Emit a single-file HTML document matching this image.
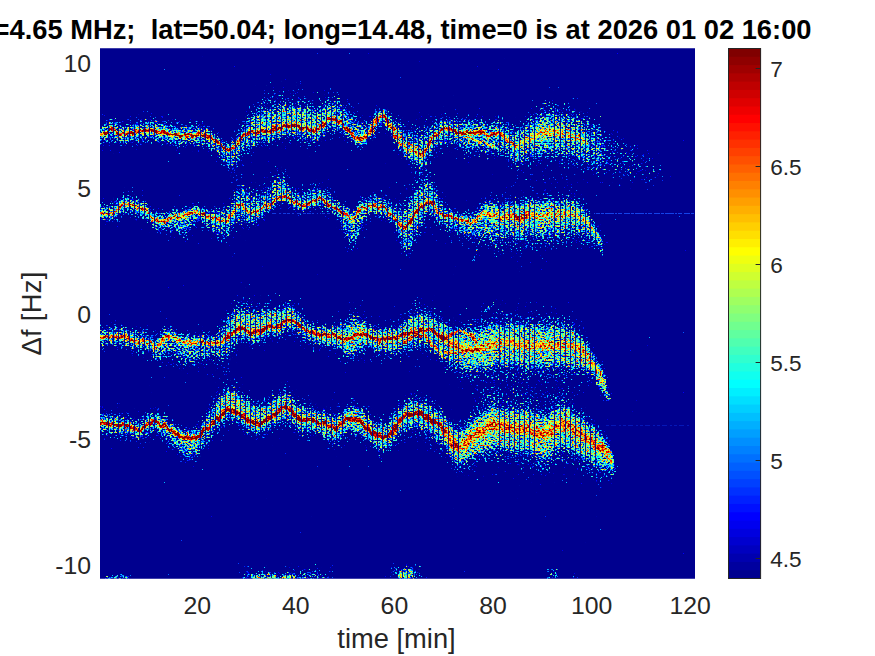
<!DOCTYPE html>
<html><head><meta charset="utf-8"><title>spectrogram</title>
<style>
html,body{margin:0;padding:0;background:#fff;}
body{width:875px;height:656px;overflow:hidden;font-family:"Liberation Sans",sans-serif;}
svg{display:block;position:absolute;left:0;top:0;}
text{font-family:"Liberation Sans",sans-serif;fill:#262626;}
.tk{font-size:24.8px;}
.lb{font-size:27.3px;}
.yl{letter-spacing:.3px;}
.ti{font-size:27.3px;font-weight:bold;fill:#000;}
.h0{fill:#fff;fill-opacity:.22;}
.h1{fill:#fff;}
polygon.h1{fill-opacity:.28;}
.h2{fill:#fff;}
polygon.h2{fill-opacity:.214;}
.h3{fill:#fff;}
polygon.h3{fill-opacity:.27;}
.cl{fill:#fff;}
.l{fill:none;stroke:#fff;stroke-width:1;}
.c{fill:none;stroke:#fff;stroke-linecap:round;stroke-linejoin:round;}
</style></head><body>
<svg width="875" height="656" viewBox="0 0 875 656">
<defs>
<filter id="b6" filterUnits="userSpaceOnUse" x="60" y="10" width="680" height="610"><feGaussianBlur stdDeviation="6"/></filter>
<filter id="b4" filterUnits="userSpaceOnUse" x="60" y="10" width="680" height="610"><feGaussianBlur stdDeviation="3.4"/></filter>
<filter id="b2" filterUnits="userSpaceOnUse" x="60" y="10" width="680" height="610"><feGaussianBlur stdDeviation="1.8"/></filter>
<filter id="b1" filterUnits="userSpaceOnUse" x="60" y="10" width="680" height="610"><feGaussianBlur stdDeviation="1.1"/></filter>
<filter id="b0" filterUnits="userSpaceOnUse" x="60" y="10" width="680" height="610"><feGaussianBlur stdDeviation="0.55"/></filter>
<filter id="spec" filterUnits="userSpaceOnUse" x="100.0" y="48.5" width="595.0" height="530.0" color-interpolation-filters="sRGB">
<feTurbulence type="fractalNoise" baseFrequency="0.47 0.62" numOctaves="1" seed="7" result="n"/>
<feColorMatrix in="n" type="matrix" values="1 0 0 0 0 1 0 0 0 0 1 0 0 0 0 0 0 0 0 1" result="ng"/>
<feTurbulence type="fractalNoise" baseFrequency="0.22 0.05" numOctaves="2" seed="11" result="d"/>
<feDisplacementMap in="SourceGraphic" in2="d" scale="7" xChannelSelector="R" yChannelSelector="G" result="sg"/>
<feComposite in="sg" in2="ng" operator="arithmetic" k1="-3.4" k2="4.34" k3="4.4" k4="-3.52" result="m"/>
<feColorMatrix in="m" type="matrix" values="1 0 0 0 0 1 0 0 0 0 1 0 0 0 0 0 0 0 0 1" result="mm"/>
<feComponentTransfer in="mm">
<feFuncR type="table" tableValues="0.000 0.000 0.000 0.000 0.000 0.000 0.000 0.000 0.000 0.000 0.000 0.000 0.000 0.000 0.000 0.000 0.000 0.000 0.000 0.000 0.000 0.000 0.000 0.000 0.000 0.000 0.000 0.000 0.000 0.000 0.000 0.000 0.000 0.000 0.000 0.000 0.000 0.000 0.000 0.000 0.062 0.062 0.125 0.125 0.188 0.188 0.188 0.250 0.250 0.312 0.312 0.312 0.375 0.375 0.438 0.438 0.500 0.500 0.500 0.562 0.562 0.625 0.625 0.625 0.688 0.688 0.750 0.750 0.812 0.812 0.812 0.875 0.875 0.938 0.938 0.938 1.000 1.000 1.000 1.000 1.000 1.000 1.000 1.000 1.000 1.000 1.000 1.000 1.000 1.000 1.000 1.000 1.000 1.000 1.000 1.000 1.000 1.000 1.000 1.000 1.000 1.000 1.000 1.000 1.000 1.000 1.000 1.000 1.000 1.000 1.000 1.000 0.938 0.938 0.938 0.875 0.875 0.812 0.812 0.750 0.750 0.688 0.688 0.625 0.625 0.562 0.562 0.500 0.500"/>
<feFuncG type="table" tableValues="0.000 0.000 0.000 0.000 0.000 0.000 0.000 0.000 0.062 0.062 0.125 0.125 0.188 0.188 0.250 0.250 0.312 0.312 0.375 0.375 0.438 0.438 0.500 0.500 0.562 0.562 0.625 0.625 0.688 0.688 0.750 0.750 0.812 0.812 0.875 0.875 0.938 0.938 1.000 1.000 1.000 1.000 1.000 1.000 1.000 1.000 1.000 1.000 1.000 1.000 1.000 1.000 1.000 1.000 1.000 1.000 1.000 1.000 1.000 1.000 1.000 1.000 1.000 1.000 1.000 1.000 1.000 1.000 1.000 1.000 1.000 1.000 1.000 1.000 1.000 1.000 1.000 1.000 0.938 0.938 0.875 0.875 0.812 0.812 0.750 0.750 0.750 0.688 0.688 0.625 0.625 0.562 0.562 0.500 0.500 0.438 0.438 0.375 0.375 0.312 0.312 0.312 0.250 0.250 0.188 0.188 0.125 0.125 0.062 0.062 0.000 0.000 0.000 0.000 0.000 0.000 0.000 0.000 0.000 0.000 0.000 0.000 0.000 0.000 0.000 0.000 0.000 0.000 0.000"/>
<feFuncB type="table" tableValues="0.562 0.625 0.750 0.812 0.875 0.938 1.000 1.000 1.000 1.000 1.000 1.000 1.000 1.000 1.000 1.000 1.000 1.000 1.000 1.000 1.000 1.000 1.000 1.000 1.000 1.000 1.000 1.000 1.000 1.000 1.000 1.000 1.000 1.000 1.000 1.000 1.000 1.000 1.000 1.000 0.938 0.938 0.875 0.875 0.812 0.812 0.812 0.750 0.750 0.688 0.688 0.688 0.625 0.625 0.562 0.562 0.500 0.500 0.500 0.438 0.438 0.375 0.375 0.375 0.312 0.312 0.250 0.250 0.188 0.188 0.188 0.125 0.125 0.062 0.062 0.062 0.000 0.000 0.000 0.000 0.000 0.000 0.000 0.000 0.000 0.000 0.000 0.000 0.000 0.000 0.000 0.000 0.000 0.000 0.000 0.000 0.000 0.000 0.000 0.000 0.000 0.000 0.000 0.000 0.000 0.000 0.000 0.000 0.000 0.000 0.000 0.000 0.000 0.000 0.000 0.000 0.000 0.000 0.000 0.000 0.000 0.000 0.000 0.000 0.000 0.000 0.000 0.000 0.000"/>
</feComponentTransfer>
</filter>
<clipPath id="pc"><rect x="100.0" y="48.5" width="595.0" height="530.0"/></clipPath>
</defs>
<rect x="100.0" y="48.5" width="595.0" height="530.0" fill="#00008f"/>
<g clip-path="url(#pc)">
<g filter="url(#spec)">
<rect x="90.0" y="38.5" width="615.0" height="550.0" fill="#000"/>
<g filter="url(#b6)"><polygon class="h0" points="96,110.3 98,110.3 100,110.4 102,110 104,109 106,107.9 108,106.9 110,106.5 112,106.9 114,108 116,109.2 118,110.2 120,110.6 122,110.7 124,110.7 126,110.7 128,110.8 130,110.8 132,110.5 134,109.9 136,109.1 138,108.4 140,107.9 142,107.7 144,107.4 146,107.2 148,107.1 150,107.1 152,107.3 154,107.8 156,108.4 158,109.1 160,109.6 162,110 164,110.3 166,110.7 168,111 170,111.4 172,111.8 174,112.4 176,112.9 178,113.3 180,113.5 182,113.4 184,113.2 186,112.9 188,112.7 190,112.6 192,112.7 194,112.7 196,112.7 198,112.8 200,112.8 202,113 204,113.5 206,114.5 208,115.9 210,117.2 212,118.5 214,120 216,121.6 218,123.4 220,126.3 222,129.7 224,131.5 226,132 228,132.4 230,132.5 232,131.9 234,130.4 236,128.5 238,122.7 240,116.3 242,109.6 244,104.1 246,100.5 248,97.1 250,94.2 252,91.4 254,88.5 256,85.6 258,82.8 260,80 262,77.1 264,77.1 266,77.1 268,77.1 270,77 272,76.6 274,75.9 276,75.1 278,74.3 280,73.8 282,73.4 284,73 286,72.7 288,72.5 290,72.6 292,72.9 294,73.4 296,74.1 298,74.8 300,75.4 302,76.4 304,77.4 306,78.4 308,79.5 310,80.5 312,81.7 314,83 316,84.1 318,85 320,83.9 322,81.1 324,78.8 326,77.6 328,76.7 330,76.7 332,76.8 334,77 336,77.3 338,77.7 340,78.8 342,80.9 344,83.4 346,85.7 348,87.8 350,90 352,92.1 354,95.6 356,98.8 358,101.8 360,104.1 362,105.7 364,106.8 366,107.7 368,108 370,107.5 372,106.3 374,101.5 376,97.3 378,95.8 380,94.9 382,94.9 384,96.4 386,96.3 388,96.8 390,97.9 392,100 394,101.8 396,103.2 398,104.4 400,104.8 402,105.9 404,106.7 406,107 408,107 410,106.7 412,106.5 414,106.3 416,106.5 418,106.8 420,106.5 422,108 424,108.1 426,107.9 428,107.3 430,106 432,105.4 434,105.5 436,105.9 438,106.8 440,108 442,106.8 444,105.8 446,105.1 448,104.5 450,104.1 452,104.1 454,104.5 456,105 458,105.6 460,105.8 462,105.9 464,105.9 466,106.1 468,106.5 470,106.7 472,106.9 474,107.1 476,107.3 478,107.5 480,107.8 482,108.2 484,108.9 486,109.7 488,110.4 490,110.8 492,110.5 494,109.7 496,108.1 498,106.4 500,105.8 502,106.2 504,106.9 506,107.5 508,108.1 510,108.9 512,109.7 514,109.9 516,109.5 518,108.2 520,106.3 522,104.1 524,102.1 526,100.1 528,98 530,96 532,94 534,92.2 536,90.6 538,89 540,87.5 542,86 544,84.5 546,84.3 548,84.1 550,84.1 552,84.3 554,84.6 556,85.1 558,85.6 560,86.1 562,86.7 564,87.3 566,87.9 568,88.5 570,89.1 572,89.8 574,90.6 576,91.5 578,92.6 580,93.8 582,95.2 584,96.7 586,98.3 588,100 590,101.9 592,103.7 594,105.6 596,107.4 598,109.1 600,110.8 602,112.5 604,114.2 606,116 608,117.7 610,119.3 612,121 614,122.6 616,124.1 618,125.6 620,127 622,128.4 624,129.7 626,130.9 628,132.2 630,133.4 632,134.6 634,135.8 636,136.9 638,138.1 640,139.2 642,140.9 644,142.7 646,144.4 648,146.1 650,147.8 652,149.5 654,151.2 656,152.9 658,154.5 660,156.2 662,158.5 664,160.8 666,163.1 668,165.3 668,181.8 666,183.4 664,184.9 662,186.5 660,188.1 658,188.9 656,189.7 654,190.5 652,191.3 650,192.1 648,192.9 646,193.7 644,194.4 642,195.2 640,195.9 638,196 636,196.1 634,196.2 632,196.3 630,196.3 628,196.3 626,196.3 624,196.3 622,196.2 620,196.1 618,195.9 616,195.7 614,195.4 612,195 610,194.6 608,194.2 606,193.7 604,193.3 602,192.8 600,192.3 598,191.9 596,191.4 594,190.8 592,190.2 590,189.6 588,189 586,188.5 584,188.1 582,187.8 580,187.7 578,187.8 576,187.9 574,187.6 572,186.8 570,186.1 568,185.5 566,184.9 564,184.3 562,183.7 560,183.1 558,182.6 556,182.1 554,181.6 552,181.3 550,181.1 548,181.1 546,181.3 544,181.5 542,181.7 540,181.9 538,182.2 536,182.4 534,182.7 532,183.3 530,184 528,184.8 526,185.5 524,186.2 522,187 520,187.9 518,188.5 516,188.5 514,187.6 512,185.8 510,183.5 508,181 506,178.9 504,176.8 502,174.5 500,172.6 498,171.7 496,171.8 494,172.6 492,173.4 490,173.7 488,173.3 486,172.6 484,171.8 482,171.1 480,170.7 478,170.4 476,170.2 474,170 472,169.8 470,169.6 468,169.4 466,169 464,168.4 462,167.7 460,166.9 458,165.9 456,164.6 454,163.3 452,162.1 450,161.4 448,161 446,160.9 444,160.9 442,161.1 440,161.6 438,162.4 436,163.6 434,165.1 432,167 430,169.7 428,173 426,175.6 424,177.8 422,179.7 420,180.2 418,179.2 416,177.5 414,175.9 412,174.6 410,173.5 408,172.4 406,171 404,169.3 402,167.1 400,164.6 398,161.8 396,158.3 394,154.6 392,150.5 390,146.1 388,142.6 386,139.9 384,137.6 382,136.6 380,137.2 378,138.6 376,140.6 374,145.3 372,150.6 370,153.3 368,155.4 366,156.7 364,157.3 362,157.8 360,157.7 358,156.9 356,155.5 354,153.8 352,151.9 350,150.7 348,149.3 346,148 344,146.6 342,144.9 340,143.7 338,143.4 336,143.9 334,144.4 332,145 330,145.8 328,146.5 326,148.2 324,150.1 322,153.1 320,156.6 318,158.4 316,158.3 314,157.8 312,157.3 310,156.8 308,156.5 306,156.2 304,155.9 302,155.6 300,155.3 298,154.6 296,153.9 294,153.1 292,152.5 290,152.1 288,152 286,152.1 284,152.3 282,152.6 280,152.9 278,153.4 276,154.1 274,154.8 272,155.4 270,155.7 268,155.7 266,155.7 264,155.6 262,155.5 260,157.5 258,159.4 256,161.4 254,163.3 252,165.3 250,167.3 248,169.3 246,170.6 244,172.2 242,175.6 240,180.2 238,184.5 236,188.3 234,188.9 232,189 230,188.3 228,186.9 226,185.2 224,183.3 222,180.2 220,176 218,172.4 216,169.9 214,167.6 212,165.4 210,163.3 208,161.3 206,159.2 204,157.8 202,157.3 200,157.2 198,157.2 196,157.2 194,157.2 192,157.2 190,157.2 188,157.3 186,157.5 184,157.8 182,158 180,158.2 178,158 176,157.6 174,157.1 172,156.6 170,156.2 168,155.8 166,155.5 164,155.2 162,154.9 160,154.6 158,154.1 156,153.4 154,152.8 152,152.3 150,152.2 148,152.2 146,152.4 144,152.6 142,152.9 140,153.2 138,153.7 136,154.4 134,155.2 132,155.9 130,156.2 128,156.2 126,156.2 124,156.2 122,156.2 120,156.2 118,155.7 116,154.7 114,153.6 112,152.6 110,152.2 108,152.6 106,153.6 104,154.7 102,155.7 100,156.2 98,156.2 96,156.2"/><polygon class="h0" points="96,190.8 98,190.9 100,191 102,191 104,191.1 106,191.1 108,191.2 110,191.3 112,190.8 114,189.7 116,188.4 118,186.3 120,183.8 122,182.6 124,182.9 126,183.5 128,184.2 130,184.8 132,185.3 134,185.7 136,186.1 138,186.6 140,187.1 142,187.7 144,188.3 146,189.2 148,190.3 150,193.7 152,197.7 154,199.9 156,201.7 158,202.6 160,202.7 162,202.5 164,202.2 166,201.9 168,201.6 170,201.2 172,200.7 174,200.3 176,200.1 178,200 180,200 182,200 184,199.9 186,198.9 188,197.4 190,196.5 192,196.3 194,196.2 196,196.2 198,196.4 200,197.2 202,197.6 204,198.1 206,198.3 208,198.7 210,198.9 212,198.9 214,198.8 216,198.4 218,198.1 220,197.8 222,197.8 224,197.9 226,196.4 228,192.8 230,187.2 232,181.6 234,175.9 236,170.3 238,166.7 240,165.3 242,166.5 244,167.8 246,169.2 248,170.9 250,172.2 252,172.8 254,172.6 256,172.1 258,171.5 260,170.8 262,170.1 264,168 266,165.8 268,163.5 270,161.2 272,158.5 274,155.5 276,152.7 278,149.8 280,151.8 282,154.7 284,158.6 286,163 288,167.6 290,172.2 292,173.2 294,174.5 296,175.7 298,176.4 300,176.7 302,176.9 304,176.8 306,176.3 308,175.3 310,174.2 312,173.1 314,172 316,170.8 318,169.8 320,169.3 322,169.5 324,171.7 326,174.1 328,176.6 330,179.1 332,181.8 334,184.6 336,187.2 338,189.7 340,191 342,192.2 344,193.4 346,194.9 348,196.5 350,197.9 352,198.4 354,197.2 356,194.3 358,191.5 360,189.1 362,186.9 364,185.2 366,184 368,182.9 370,182.3 372,182 374,182 376,182.1 378,182.3 380,182.5 382,182.9 384,183.4 386,184.1 388,185 390,186.7 392,189.1 394,188.5 396,188 398,187.6 400,186.7 402,185.2 404,183.5 406,180.8 408,174.4 410,166.3 412,163.6 414,161.3 416,159.2 418,157.3 420,155.6 422,154.2 424,152.8 426,151.5 428,150.6 430,150.4 432,155.5 434,162.2 436,168.8 438,174.9 440,180.7 442,185.5 444,189.9 446,194.2 448,198.5 450,199.2 452,200.1 454,200.9 456,201.5 458,202 460,202.4 462,202.8 464,203.2 466,203.5 468,203.8 470,204.2 472,204.4 474,204.5 476,201.7 478,197.5 480,193.8 482,190.9 484,188.2 486,186.2 488,185 490,184.3 492,184.8 494,185.1 496,185.5 498,185.7 500,185.6 502,185 504,184.2 506,183.3 508,182.5 510,182 512,182.1 514,182.8 516,183.7 518,184.3 520,184.4 522,183.5 524,181.7 526,179.6 528,177.8 530,176.9 532,177.5 534,178.6 536,179.9 538,181 540,181.6 542,181.3 544,180.5 546,179.4 548,178.6 550,178.3 552,178.6 554,179.3 556,180 558,180.6 560,181 562,180.9 564,180.5 566,180.1 568,179.7 570,179.7 572,180 574,180.8 576,182.3 578,184.2 580,186.2 582,188.3 584,190.5 586,193 588,195.7 590,198.6 592,201.9 594,205.7 596,209.9 598,215.6 600,221.4 602,227.7 604,234.5 606,241.6 606,271.5 604,268.4 602,265.8 600,263.7 598,261.9 596,260.4 594,259.5 592,258.9 590,258.9 588,259.2 586,259.8 584,260.5 582,261.5 580,262.7 578,264 576,265.2 574,265.6 572,265.1 570,264.9 568,265.3 566,265.9 564,266.7 562,267.3 560,267.6 558,267.6 556,267.2 554,266.8 552,266.4 550,266.3 548,266.9 546,268 544,269.3 542,270.5 540,271 538,270.7 536,269.9 534,268.8 532,268 530,267.7 528,268.2 526,269.5 524,271.1 522,272.5 520,272.9 518,272.4 516,271.2 514,269.9 512,268.7 510,268.1 508,268.2 506,268.5 504,269 502,269.3 500,269.4 498,269 496,268.4 494,267.5 492,266.8 490,265.8 488,263.1 486,260.7 484,259.3 482,258.5 480,257.9 478,258.1 476,258.8 474,258.1 472,257.5 470,256.8 468,256 466,255.2 464,254.4 462,253.6 460,252.7 458,251.8 456,250.8 454,249.7 452,248.4 450,247.1 448,245.9 446,245 444,244.2 442,243.3 440,241.9 438,239.5 436,236.8 434,233.7 432,230.5 430,228.8 428,232.7 426,237.3 424,242.4 422,247.4 420,252.6 418,258 416,263.7 414,269.4 412,275.5 410,281.9 408,282.2 406,280.9 404,275.8 402,269.8 400,263.5 398,256.7 396,249.3 394,242.1 392,234.9 390,232.4 388,230.6 386,229.5 384,228.7 382,228.1 380,227.6 378,227.2 376,226.9 374,226.7 372,226.6 370,226.8 368,227.2 366,233.6 364,240.1 362,247.1 360,254.7 358,262.4 356,270.5 354,278.7 352,274.9 350,269.3 348,262.9 346,256.2 344,249.7 342,243.4 340,237.2 338,230.9 336,229 334,227 332,224.8 330,222.6 328,220.7 326,218.8 324,216.9 322,215.3 320,214.9 318,215.3 316,216.1 314,217.1 312,217.9 310,218.8 308,219.8 306,220.6 304,220.9 302,220.8 300,220.4 298,219.9 296,219.1 294,217.7 292,216.2 290,214.9 288,214.2 286,213.5 284,213 282,213 280,213.9 278,215.8 276,217.9 274,219.9 272,222.1 270,224.1 268,225.7 266,227.2 264,228.6 262,229.9 260,232.3 258,234.7 256,237 254,239.2 252,241.1 250,242.2 248,242.5 246,242.5 244,242.8 242,243.2 240,243.7 238,242.8 236,244.1 234,247.4 232,250.7 230,253.9 228,257.2 226,258.5 224,257.7 222,255.8 220,254 218,252.5 216,251 214,249.5 212,247.9 210,246.1 208,244 206,241.9 204,239.8 202,237.5 200,235.3 198,237.1 196,239.6 194,242.3 192,245 190,247.9 188,251.4 186,255.6 184,254.4 182,252.4 180,250.3 178,248.2 176,246.1 174,244.2 172,242.5 170,240.9 168,241.4 166,241.8 164,242.3 162,242.8 160,243.2 158,243.2 156,242.5 154,240.8 152,238.8 150,234.9 148,231.6 146,230.5 144,229.7 142,229.1 140,228.6 138,228.1 136,227.7 134,227.4 132,227 130,226.6 128,226 126,225.4 124,224.8 122,224.6 120,225.9 118,228.5 116,230.6 114,232 112,233.1 110,233.6 108,233.6 106,233.6 104,233.6 102,233.6 100,233.6 98,233.6 96,233.6"/><polygon class="h0" points="96,312.3 98,312.4 100,312.4 102,312.6 104,312.9 106,313.2 108,313.6 110,313.7 112,313.7 114,313.5 116,313.2 118,313.1 120,313 122,313.3 124,313.9 126,314.7 128,315.6 130,316.3 132,317.1 134,317.9 136,318.7 138,319.3 140,319.6 142,319.7 144,319.7 146,319.8 148,319.9 150,321.6 152,324.7 154,326.4 156,325.9 158,324.6 160,322.9 162,320.3 164,317 166,315.5 168,315.9 170,316.5 172,317.3 174,318.3 176,319.7 178,321.2 180,322.3 182,323.1 184,323.9 186,324.6 188,325.1 190,325.5 192,325.1 194,324.7 196,324.1 198,323.6 200,323.3 202,323.1 204,323.1 206,323.2 208,323.2 210,323 212,322.8 214,322.5 216,320.5 218,316.7 220,312.9 222,308.4 224,303 226,297.4 228,291.7 230,289 232,286.5 234,283.8 236,281.2 238,279.8 240,279.4 242,279.2 244,279.1 246,279.4 248,280.2 250,280.9 252,282.3 254,283.2 256,283.9 258,284.5 260,285.1 262,285.2 264,284.9 266,284.4 268,284.2 270,284.7 272,285.8 274,287.1 276,288.3 278,289.4 280,289.3 282,288.1 284,287.2 286,286.8 288,286.6 290,287 292,288.7 294,291 296,293.4 298,295.8 300,298.3 302,300.8 304,303.2 306,305.7 308,308.1 310,310.3 312,312.4 314,313.4 316,314.1 318,314.4 320,314.4 322,314.4 324,314.4 326,314.4 328,314.4 330,314.5 332,314.9 334,315.4 336,314.4 338,312 340,309.7 342,307.4 344,305 346,302.4 348,299.1 350,295.4 352,291.5 354,293.3 356,295.1 358,296.9 360,298.8 362,301.2 364,304.2 366,307.7 368,311.4 370,312.3 372,313.2 374,314.2 376,315 378,315.3 380,315.3 382,315.3 384,315.3 386,315.3 388,315.2 390,315 392,314.6 394,314.3 396,312.7 398,309.7 400,306.6 402,303.6 404,300.7 406,297.7 408,294.7 410,291.7 412,288.5 414,285.1 416,283.7 418,284.3 420,285.1 422,285.9 424,286.9 426,288 428,289.4 430,291 432,292.8 434,294.7 436,296.8 438,298.1 440,299.5 442,300.9 444,302.4 446,304.1 448,305.6 450,306.9 452,307.1 454,307.2 456,307.1 458,307 460,306.8 462,306.5 464,306.2 466,305.8 468,305.3 470,304.6 472,303.8 474,302.8 476,301.7 478,300.6 480,299.5 482,298.9 484,298.2 486,297.4 488,296.6 490,295.9 492,295.2 494,294.6 496,294 498,293.5 500,293.3 502,293.1 504,293 506,292.9 508,292.8 510,292.6 512,292.6 514,292.6 516,292.8 518,292.9 520,293 522,293.1 524,293.3 526,293.4 528,293.5 530,293.4 532,293.6 534,293.7 536,293.9 538,294 540,294.2 542,294.3 544,294.5 546,294.6 548,294.8 550,294.9 552,295.1 554,295.3 556,295.4 558,295.6 560,295.7 562,295.9 564,296.2 566,296.6 568,297 570,297.5 572,299.8 574,302.3 576,305 578,307.8 580,310.8 582,314 584,317.7 586,321.6 588,325.8 590,330.1 592,333.9 594,338.1 596,342.6 598,347.2 600,351.9 602,356.7 604,361.7 606,367.4 608,376.4 610,386.6 610,420.6 608,415.5 606,411.7 604,408.3 602,405.6 600,403.2 598,400.8 596,398.5 594,396.4 592,394.5 590,393 588,392.7 586,392.6 584,392.7 582,393.1 580,393.9 578,394.9 576,396.1 574,397.4 572,399 570,400.7 568,400.5 566,400.4 564,400.4 562,400.4 560,400.5 558,400.6 556,400.8 554,400.9 552,401.1 550,401.2 548,401.4 546,401.6 544,401.7 542,401.9 540,402 538,402.2 536,402.3 534,402.5 532,402.6 530,402.8 528,402.6 526,402.3 524,401.9 522,401.5 520,401.2 518,400.8 516,400.4 514,400.1 512,399.8 510,399.6 508,399.4 506,399.3 504,399.2 502,399.1 500,398.9 498,398.9 496,399.2 494,399.5 492,399.9 490,400.3 488,400.8 486,401.3 484,401.9 482,402.4 480,402.7 478,402.6 476,402.4 474,402.3 472,402 470,401.6 468,401.1 466,400.4 464,399.5 462,398.5 460,397.6 458,396.6 456,395.5 454,394.2 452,392.9 450,391.5 448,388.9 446,386 444,383 442,380.2 440,377.4 438,374.7 436,372.1 434,370.9 432,369.9 430,369 428,368.2 426,367.7 424,367.5 422,367.4 420,367.5 418,367.5 416,367.8 414,368.3 412,368.9 410,369.3 408,369.6 406,369.8 404,369.9 402,370.1 400,370.3 398,370.5 396,370.7 394,371 392,371.3 390,371.7 388,371.9 386,372 384,372 382,372 380,372 378,372 376,371.7 374,370.9 372,369.9 370,369 368,368.1 366,368.7 364,369.4 362,370.6 360,372.5 358,374.9 356,377.4 354,379.9 352,382.3 350,380.9 348,379.3 346,377.3 344,374.7 342,371.8 340,368.7 338,365.8 336,362.9 334,361.2 332,360.7 330,360.4 328,360.2 326,360.2 324,360.2 322,360.2 320,360.2 318,360.2 316,360 314,359.2 312,358.2 310,357.1 308,355.9 306,354.5 304,353 302,351.5 300,350 298,348.5 296,347.1 294,345.7 292,344.4 290,343.7 288,344.2 286,345.4 284,346.7 282,348.6 280,350.7 278,351.7 276,351.5 274,351.2 272,350.9 270,350.7 268,351.2 266,352.3 264,353.7 262,354.9 260,355.7 258,356.1 256,356.4 254,356.6 252,356.7 250,356.2 248,356.4 246,356.4 244,356.9 242,357.9 240,358.9 238,360.2 236,362.5 234,365.9 232,369.4 230,372.8 228,376.3 226,377.2 224,378 222,378.7 220,378.4 218,377.4 216,376.5 214,376.4 212,377.1 210,377.9 208,378.5 206,379 204,379.4 202,379.9 200,380.6 198,381.4 196,382.4 194,383.5 192,384.5 190,385.3 188,384.9 186,384.4 184,383.7 182,382.9 180,382.1 178,381 176,379.5 174,378.1 172,377.1 170,376.3 168,375.7 166,375.3 164,375.9 162,377.3 160,378.2 158,378 156,377.5 154,376.2 152,372.6 150,367.7 148,364.1 146,364.1 144,364.1 142,364.1 140,364.1 138,363.9 136,363.4 134,362.6 132,361.8 130,361.1 128,360.5 126,359.7 124,358.9 122,358.4 120,358.1 118,358.3 116,358.5 114,358.8 112,359 110,359.1 108,359 106,358.8 104,358.5 102,358.3 100,358.1 98,358.1 96,358.1"/><polygon class="h0" points="96,399.3 98,399.3 100,399.4 102,399.5 104,399.7 106,400 108,400.3 110,400.6 112,400.8 114,401.1 116,401.3 118,401.5 120,401.8 122,402.3 124,402.9 126,403.7 128,404.4 130,405.1 132,405.7 134,406.4 136,407 138,407.2 140,406.9 142,405.9 144,404.6 146,403.4 148,402.1 150,400.5 152,399.1 154,398.6 156,399.1 158,400.1 160,401.5 162,402.8 164,404 166,405.6 168,407.3 170,409 172,410.5 174,411.9 176,413.3 178,414.7 180,416.4 182,418.1 184,419.6 186,420.5 188,420.1 190,419.6 192,419.2 194,418.7 196,417.6 198,415.5 200,413.4 202,408.4 204,403.5 206,398.4 208,393.2 210,387.8 212,382.3 214,376.7 216,374.3 218,371.8 220,369.4 222,367.2 224,365.1 226,363.2 228,362.2 230,362 232,362 234,363.3 236,364.8 238,366.6 240,368.6 242,370.8 244,373.2 246,375.6 248,377.7 250,379.5 252,381.2 254,382.7 256,383.8 258,383.9 260,384 262,383.9 264,383.7 266,382.7 268,381 270,379.4 272,378.2 274,377.2 276,376.2 278,375.2 280,374 282,372.6 284,371.4 286,371.7 288,373.4 290,376.2 292,379 294,381.8 296,384.7 298,387.3 300,389.1 302,389.4 304,389.6 306,389.7 308,389.9 310,390.1 312,390.5 314,391 316,391.7 318,392.4 320,393.1 322,393.9 324,394.7 326,395.6 328,396.4 330,397.1 332,397.8 334,398.4 336,398.9 338,399.1 340,397.2 342,394.1 344,391 346,389.1 348,389.1 350,389.1 352,389.1 354,389.1 356,389.4 358,390.2 360,391.4 362,392.7 364,394.1 366,395.8 368,398 370,400.2 372,402.1 374,403.7 376,405.4 378,406.6 380,407.1 382,406.9 384,406.5 386,405.9 388,405.1 390,403.5 392,400.8 394,398.1 396,395.4 398,392.5 400,390.1 402,387.8 404,385.7 406,384 408,382.9 410,382.2 412,381.5 414,381 416,380.6 418,380.6 420,381 422,381.7 424,382.4 426,383.2 428,384.2 430,385.2 432,386.1 434,386.8 436,387.4 438,388 440,388.9 442,390.4 444,392.6 446,395.1 448,397.8 450,400.2 452,402.8 454,405.8 456,408.1 458,408.8 460,407.8 462,405.8 464,403.4 466,401.2 468,399.2 470,397.1 472,395 474,393.1 476,391.3 478,389.8 480,388.5 482,387.2 484,385.8 486,384.1 488,382.1 490,380.2 492,379.1 494,378.6 496,378.9 498,379.5 500,380.4 502,381.1 504,381.6 506,381.9 508,382.1 510,382.3 512,382.5 514,382.6 516,382.6 518,382.6 520,382.6 522,382.6 524,382.6 526,382.6 528,382.9 530,383.8 532,384.8 534,385.8 536,386.6 538,387.1 540,387.7 542,388.3 544,388.8 546,389.1 548,388.5 550,386.9 552,384.9 554,383 556,381.8 558,381.3 560,380.8 562,380.5 564,380.5 566,381 568,382.2 570,383.6 572,385.1 574,386.6 576,388.3 578,390.1 580,391.7 582,393.9 584,396 586,398 588,400.1 590,402.4 592,404.8 594,407.4 596,410 598,412.6 600,415 602,417.7 604,420.1 606,422.5 608,425.3 610,428.8 612,436.4 614,452.5 614,499.9 612,502.4 610,497.9 608,497.5 606,497.8 604,498.5 602,499.2 600,499.6 598,499 596,498.3 594,497.5 592,496.8 590,496.2 588,495.9 586,495.7 584,495.5 582,495.2 580,494.9 578,493.6 576,492.1 574,490.7 572,489.5 570,488.4 568,487.2 566,486.4 564,486.1 562,486.5 560,487.1 558,487.9 556,488.8 554,490.2 552,492.4 550,494.8 548,496.7 546,497.5 544,497.6 542,497.4 540,497.1 538,496.3 536,495.5 534,494.5 532,493.2 530,491.9 528,490.8 526,490.3 524,490 522,489.8 520,489.5 518,489.3 516,489 514,488.7 512,488.4 510,488 508,487.5 506,487 504,486.5 502,485.8 500,484.8 498,483.7 496,482.8 494,482.3 492,482.5 490,483.4 488,483.9 486,484.5 484,484.9 482,484.9 480,484.9 478,484.9 476,485 474,485.4 472,486 470,486.8 468,487.5 466,488.2 464,489 462,490 460,490.6 458,490.3 456,489.2 454,486.6 452,483.3 450,480.3 448,477.5 446,474.6 444,471.7 442,469.2 440,467.3 438,465.6 436,464.2 434,462.9 432,461.4 430,459.7 428,457.9 426,456.1 424,454.6 422,453.1 420,451.7 418,450.5 416,449.7 414,449.3 412,449.1 410,448.9 408,448.9 406,449.2 404,450.2 402,451.5 400,453 398,455.3 396,458 394,460.7 392,463.3 390,465.8 388,467.4 386,468.1 384,468.6 382,468.9 380,469 378,468.4 376,467 374,465.3 372,463.6 370,461.6 368,459.3 366,457 364,455.1 362,453.7 360,452.2 358,450.9 356,450 354,449.6 352,449.5 350,449.4 348,449.3 346,449.2 344,451 342,454 340,457 338,458.9 336,458.7 334,458.2 332,457.6 330,456.9 328,456.2 326,455.4 324,454.5 322,453.7 320,452.9 318,452.2 316,451.5 314,450.8 312,450.3 310,449.9 308,449.7 306,449.5 304,449.4 302,449.2 300,448.9 298,447.9 296,446.1 294,443.9 292,441.9 290,439.8 288,437.8 286,436.9 284,437.4 282,438.4 280,439.8 278,440.9 276,441.8 274,442.6 272,443.6 270,444.6 268,446.1 266,447.7 264,448.6 262,448.7 260,448.6 258,448.5 256,448.2 254,447.8 252,447 250,445.9 248,444.7 246,443.3 244,441.6 242,439.8 240,438.2 238,436.9 236,435.7 234,434.8 232,434.2 230,434.2 228,434.4 226,435.4 224,437.3 222,439.4 220,441.6 218,444 216,446.5 214,448.9 212,452.7 210,456.5 208,460.1 206,463.5 204,466.8 202,470 200,473.2 198,475.7 196,478.2 194,479.9 192,480.7 190,481.6 188,482.5 186,483.4 184,480.9 182,477.8 180,474.4 178,471.1 176,468.1 174,465.1 172,462 170,458.9 168,455.6 166,452.2 164,449.9 162,448.7 160,447.4 158,446.1 156,445.1 154,444.7 152,445.3 150,446.6 148,448.3 146,449.7 144,450.9 142,452.3 140,453.3 138,453.7 136,453.5 134,453 132,452.3 130,451.7 128,451.1 126,450.4 124,449.7 122,449.1 120,448.7 118,448.4 116,448.2 114,448.1 112,447.9 110,447.7 108,447.5 106,447.2 104,447 102,446.8 100,446.7 98,446.7 96,446.7"/></g>
<g filter="url(#b4)"><polygon class="h1" points="96,120 98,120 100,120 102,119.6 104,118.7 106,117.5 108,116.5 110,116.1 112,116.6 114,117.6 116,118.8 118,119.8 120,120.2 122,120.2 124,120.3 126,120.3 128,120.3 130,120.3 132,120.1 134,119.4 136,118.6 138,117.9 140,117.4 142,117.1 144,116.9 146,116.7 148,116.5 150,116.5 152,116.7 154,117.2 156,117.8 158,118.5 160,119 162,119.4 164,119.7 166,120 168,120.3 170,120.7 172,121.1 174,121.7 176,122.2 178,122.6 180,122.8 182,122.7 184,122.5 186,122.2 188,121.9 190,121.9 192,121.9 194,121.9 196,121.9 198,121.9 200,122 202,122.2 204,122.7 206,123.6 208,124.7 210,125.9 212,127 214,128.3 216,129.7 218,131.3 220,134 222,137.2 224,139 226,139.5 228,139.9 230,140 232,139.4 234,137.9 236,136 238,131.3 240,126 242,120.4 244,116 246,113.5 248,111.2 250,109.3 252,107.3 254,105.4 256,103.5 258,101.6 260,99.7 262,97.8 264,97.8 266,97.7 268,97.6 270,97.4 272,97 274,96.2 276,95.4 278,94.5 280,93.9 282,93.5 284,93.1 286,92.7 288,92.5 290,92.5 292,92.7 294,93.2 296,93.8 298,94.4 300,95 302,95.8 304,96.6 306,97.4 308,98.2 310,99 312,100 314,101 316,102 318,102.6 320,101.3 322,98.3 324,95.8 326,94.4 328,93.2 330,93 332,93.1 334,93.3 336,93.6 338,94 340,95.1 342,97.2 344,99.7 346,102 348,104.1 350,106.3 352,108.4 354,111.2 356,113.8 358,116.1 360,117.8 362,118.7 364,119.2 366,119.4 368,119 370,117.8 372,116 374,111.1 376,106.7 378,105 380,103.9 382,103.7 384,105 386,105.8 388,107 390,109 392,111.9 394,114.5 396,116.7 398,118.7 400,120 402,121.4 404,122.5 406,123.2 408,123.5 410,123.6 412,123.6 414,123.8 416,124.4 418,125 420,125 422,125.6 424,124.9 426,123.8 428,122.3 430,120.1 432,118.6 434,117.8 436,117.4 438,117.4 440,117.7 442,116.5 444,115.7 446,115 448,114.5 450,114.2 452,114.3 454,114.8 456,115.4 458,116.1 460,116.4 462,116.5 464,116.6 466,116.9 468,117.1 470,117.3 472,117.5 474,117.6 476,117.7 478,117.9 480,118 482,118.3 484,119 486,119.7 488,120.3 490,120.7 492,120.3 494,119.4 496,118.1 498,116.8 500,116.6 502,117.4 504,118.6 506,119.6 508,120.6 510,121.9 512,123.1 514,123.8 516,123.7 518,122.7 520,121.1 522,119.3 524,117.5 526,115.9 528,114.1 530,112.3 532,110.7 534,109.1 536,107.9 538,106.6 540,105.3 542,104.1 544,103 546,102.7 548,102.5 550,102.4 552,102.5 554,102.8 556,103.1 558,103.6 560,104.1 562,104.6 564,105.1 566,105.6 568,106.1 570,106.7 572,107.3 574,108 576,108.8 578,109.8 580,110.8 582,111.9 584,113.3 586,114.7 588,116.3 590,117.9 592,119.6 594,121.3 596,122.9 598,124.5 600,126 602,127.5 602,176.7 600,176 598,175.3 596,174.5 594,173.7 592,172.8 590,171.9 588,171.1 586,170.3 584,169.7 582,169.1 580,168.8 578,168.6 576,168.4 574,168 572,167.3 570,166.7 568,166.1 566,165.6 564,165.1 562,164.6 560,164.1 558,163.6 556,163.1 554,162.8 552,162.5 550,162.4 548,162.5 546,162.7 544,163 542,163.3 540,163.7 538,164.1 536,164.5 534,165 532,165.7 530,166.5 528,167.5 526,168.4 524,169.2 522,170.2 520,171.2 518,172 516,172.1 514,171.3 512,169.6 510,167.4 508,165.1 506,163.1 504,161.1 502,158.9 500,157.1 498,156.3 496,156.6 494,157.4 492,158.3 490,158.7 488,158.3 486,157.7 484,157 482,156.3 480,156 478,155.9 476,155.7 474,155.6 472,155.5 470,155.3 468,155.1 466,154.9 464,154.4 462,153.8 460,153.2 458,152.4 456,151.3 454,150.2 452,149.2 450,148.6 448,148.4 446,148.5 444,148.6 442,149 440,149.7 438,150.7 436,152 434,153.7 432,155.8 430,158.6 428,162.1 426,164.9 424,167.3 422,169.3 420,170 418,169.1 416,167.6 414,166.1 412,165 410,164.1 408,163.1 406,161.9 404,160.3 402,158.3 400,156 398,153.2 396,149.7 394,146 392,141.9 390,137.5 388,134 386,131.3 384,129 382,128 380,128.6 378,130 376,132 374,136.7 372,142 370,144.8 368,147 366,148.4 364,149.2 362,149.7 360,149.8 358,149.1 356,147.8 354,146.2 352,144.4 350,142.9 348,141.2 346,139.6 344,137.9 342,135.9 340,134.4 338,133.8 336,134 334,134.2 332,134.5 330,135 328,135.7 326,137.3 324,139.2 322,142.1 320,145.7 318,147.4 316,147.2 314,146.8 312,146.2 310,145.7 308,145.3 306,145 304,144.6 302,144.3 300,144 298,143.4 296,142.7 294,142 292,141.5 290,141.2 288,141.2 286,141.3 284,141.6 282,142 280,142.4 278,143 276,143.7 274,144.6 272,145.3 270,145.6 268,145.8 266,145.8 264,145.8 262,145.8 260,147.1 258,148.5 256,149.8 254,151.1 252,152.5 250,153.9 248,155.2 246,156.2 244,157.3 242,160.4 240,164.7 238,168.6 236,172 234,173 232,173.7 230,173.4 228,172.4 226,171.2 224,169.9 222,167.2 220,163.5 218,160.4 216,158.2 214,156.4 212,154.7 210,153.1 208,151.4 206,149.8 204,148.7 202,148.2 200,148 198,148 196,148 194,148 192,148 190,148 188,148.1 186,148.4 184,148.6 182,148.9 180,149 178,148.8 176,148.5 174,148 172,147.4 170,147 168,146.7 166,146.4 164,146.1 162,145.8 160,145.4 158,144.9 156,144.3 154,143.7 152,143.2 150,143 148,143.1 146,143.2 144,143.4 142,143.7 140,144 138,144.5 136,145.3 134,146.1 132,146.7 130,147 128,147 126,147 124,147 122,147 120,147 118,146.6 116,145.6 114,144.4 112,143.4 110,143 108,143.4 106,144.4 104,145.6 102,146.6 100,147 98,147 96,147"/><polygon class="h1" points="96,200 98,200 100,200.1 102,200.1 104,200.1 106,200.2 108,200.2 110,200.3 112,199.8 114,198.7 116,197.4 118,195.3 120,192.7 122,191.5 124,191.7 126,192.3 128,193 130,193.6 132,194.1 134,194.5 136,194.9 138,195.3 140,195.8 142,196.4 144,197 146,197.8 148,199 150,202.3 152,206.2 154,208.3 156,210 158,210.8 160,210.8 162,210.5 164,210 166,209.6 168,209.2 170,208.7 172,208.2 174,207.7 176,207.4 178,207.2 180,207.2 182,207.1 184,206.9 186,205.9 188,204.3 190,203.3 192,203 194,202.9 196,202.8 198,202.9 200,203.6 202,204.3 204,205 206,205.6 208,206.2 210,206.7 212,207 214,207.1 216,207 218,207 220,207 222,207.3 224,207.6 226,206.8 228,203.8 230,198.9 232,194 234,189.1 236,184.2 238,181.2 240,180.5 242,181.7 244,183 246,184.4 248,186.1 250,187.4 252,188 254,187.8 256,187.3 258,186.7 260,186 262,185.3 264,183.6 266,181.9 268,180 270,178 272,175.7 274,173.2 276,170.8 278,168.3 280,169 282,170.7 284,173.3 286,176.4 288,179.7 290,183 292,184.1 294,185.5 296,186.7 298,187.5 300,187.9 302,188.1 304,188.1 306,187.7 308,186.8 310,185.6 312,184.6 314,183.6 316,182.5 318,181.6 320,181.1 322,181.4 324,183.2 326,185.2 328,187.2 330,189.4 332,191.7 334,194 336,196.2 338,198.3 340,199.6 342,200.8 344,202 346,203.5 348,205.1 350,206.5 352,207 354,205.8 356,203.1 358,200.4 360,198.2 362,196.1 364,194.6 366,193.5 368,192.6 370,192.1 372,191.8 374,191.8 376,192 378,192.2 380,192.5 382,192.9 384,193.4 386,194.2 388,195.2 390,196.9 392,199.3 394,199.9 396,200.6 398,201.4 400,201.6 402,201.3 404,200.7 406,199.2 408,193.9 410,187 412,184.2 414,181.8 416,179.6 418,177.6 420,175.7 422,174.2 424,172.7 426,171.3 428,170.3 430,170 432,173.8 434,179.1 436,184.3 438,189.1 440,193.6 442,197.1 444,200.1 446,203 448,206 450,206.7 452,207.6 454,208.4 456,209 458,209.5 460,209.9 462,210.3 464,210.7 466,211 468,211.3 470,211.7 472,211.9 474,212 476,209.7 478,206.1 480,203 482,200.6 484,198.5 486,197 488,196.4 490,196.2 492,196.8 494,197.2 496,197.7 498,198 500,198 502,197.6 504,196.9 506,196.1 508,195.4 510,195 512,195.2 514,196 516,197 518,197.8 520,198 522,197.2 524,195.5 526,193.5 528,191.8 530,191 532,191.5 534,192.6 536,193.9 538,194.9 540,195.4 542,195.1 544,194.2 546,193.1 548,192.2 550,191.9 552,192.2 554,192.8 556,193.5 558,194 560,194.3 562,194.2 564,193.8 566,193.3 568,192.9 570,192.8 572,193.1 574,193.9 576,195.1 578,196.8 580,198.4 582,200.2 584,202.1 586,204.3 588,206.7 590,209.3 592,212.3 594,215.7 596,219.6 598,224.5 600,229.7 602,235.2 604,241.2 606,247.7 606,264.3 604,260.6 602,257.2 600,254.3 598,251.9 596,249.6 594,247.8 592,246.5 590,245.6 588,245.1 586,244.8 584,244.7 582,244.8 580,245.2 578,245.6 576,246.1 574,245.9 572,245.4 570,245.2 568,245.5 566,246.1 564,246.8 562,247.4 560,247.7 558,247.5 556,247.1 554,246.6 552,246.2 550,246.1 548,246.6 546,247.7 544,249 542,250.1 540,250.6 538,250.2 536,249.3 534,248.2 532,247.3 530,247 528,247.5 526,248.9 524,250.6 522,252 520,252.5 518,252 516,250.9 514,249.6 512,248.5 510,248 508,248.1 506,248.5 504,249 502,249.4 500,249.5 498,249.2 496,248.6 494,247.8 492,247.1 490,246.2 488,244.1 486,242.5 484,241.7 482,241.6 480,241.8 478,242.6 476,244 474,244 472,243.6 470,243 468,242.4 466,241.8 464,241.1 462,240.5 460,239.8 458,239 456,238.2 454,237.3 452,236.2 450,235 448,234 446,233.2 444,232.6 442,231.7 440,230.5 438,228.2 436,225.7 434,222.7 432,219.6 430,218 428,220.7 426,224.1 424,227.9 422,231.8 420,235.7 418,240 416,244.4 414,249 412,253.8 410,259 408,260.9 406,261.2 404,257.7 402,253.3 400,248.6 398,243.4 396,237.6 394,231.9 392,226.3 390,223.8 388,222 386,220.9 384,220.1 382,219.5 380,219 378,218.6 376,218.3 374,218.1 372,218 370,218.2 368,218.6 366,223 364,227.4 362,232.4 360,237.9 358,243.6 356,249.6 354,255.8 352,253.8 350,250 348,245.4 346,240.5 344,235.8 342,231.3 340,226.8 338,222.3 336,220.6 334,218.8 332,216.8 330,214.9 328,213.1 326,211.5 324,209.8 322,208.4 320,208 318,208.3 316,209.1 314,210.1 312,211 310,211.9 308,212.9 306,213.7 304,214 302,213.9 300,213.5 298,213 296,212.1 294,210.7 292,209.2 290,208 288,207.2 286,206.4 284,205.8 282,205.7 280,206.5 278,208.3 276,210.2 274,212.2 272,214.2 270,216 268,217.5 266,218.9 264,220.1 262,221.3 260,223.1 258,224.9 256,226.6 254,228.2 252,229.5 250,230 248,229.7 246,229.1 244,228.8 242,228.6 240,228.5 238,227.8 236,229.2 234,232.6 232,236 230,239.4 228,242.8 226,244.2 224,243.6 222,242.1 220,240.7 218,239.5 216,238.4 214,237.2 212,236 210,234.5 208,232.8 206,231.1 204,229.3 202,227.4 200,225.6 198,226.6 196,228.2 194,230 192,231.9 190,233.9 188,236.6 186,239.9 184,239.5 182,238.3 180,237 178,235.7 176,234.5 174,233.4 172,232.5 170,231.7 168,232.3 166,232.8 164,233.3 162,233.9 160,234.3 158,234.4 156,233.7 154,232.1 152,230.1 150,226.3 148,223 146,221.9 144,221.1 142,220.5 140,220 138,219.5 136,219.1 134,218.8 132,218.4 130,218 128,217.4 126,216.8 124,216.2 122,216 120,217.3 118,219.9 116,222 114,223.4 112,224.5 110,225 108,225 106,225 104,225 102,225 100,225 98,225 96,225"/><polygon class="h1" points="96,322 98,322 100,322.1 102,322.2 104,322.5 106,322.8 108,323.1 110,323.3 112,323.2 114,323 116,322.7 118,322.5 120,322.5 122,322.7 124,323.3 126,324.1 128,324.9 130,325.7 132,326.4 134,327.2 136,328 138,328.6 140,328.8 142,328.9 144,328.9 146,329 148,329 150,330.7 152,333.7 154,335.4 156,334.8 158,333.4 160,331.7 162,329 164,325.6 166,324.1 168,324.4 170,324.9 172,325.6 174,326.5 176,327.8 178,329.2 180,330.2 182,330.9 184,331.6 186,332.3 188,332.7 190,333 192,332.7 194,332.3 196,331.9 198,331.5 200,331.2 202,331.1 204,331.2 206,331.4 208,331.5 210,331.4 212,331.2 214,331.1 216,329.8 218,327.3 220,324.8 222,321.7 224,317.7 226,313.5 228,309.1 230,306.6 232,304.3 234,301.8 236,299.4 238,298.2 240,298 242,298 244,298.1 246,298.6 248,299.6 250,300.5 252,301.6 254,302.1 256,302.5 258,302.8 260,303 262,302.8 264,302.2 266,301.4 268,300.9 270,301 272,301.8 274,302.7 276,303.6 278,304.4 280,304 282,302.5 284,301.2 286,300.5 288,299.9 290,300 292,301.3 294,303.2 296,305.2 298,307.2 300,309.3 302,311.4 304,313.4 306,315.5 308,317.5 310,319.3 312,321 314,322 316,322.7 318,323 320,323 322,323 324,323 326,323 328,323 330,323.1 332,323.5 334,324 336,323.6 338,322.2 340,320.9 342,319.6 344,318.3 346,316.6 348,314.4 350,311.8 352,308.9 354,309.8 356,310.6 358,311.4 360,312.3 362,313.8 364,315.8 366,318.4 368,321.1 370,322 372,322.9 374,323.9 376,324.7 378,325 380,325 382,325 384,325 386,325 388,324.9 390,324.7 392,324.3 394,324 396,322.8 398,320.7 400,318.5 402,316.4 404,314.3 406,312.2 408,310.2 410,308 412,305.7 414,303.2 416,301.9 418,302.1 420,302.5 422,303 424,303.5 426,304.2 428,305.1 430,306.4 432,307.8 434,309.2 436,310.9 438,312.2 440,313.6 442,315 444,316.5 446,318.2 448,319.7 450,321 452,321.5 454,321.8 456,322.1 458,322.3 460,322.3 462,322.3 464,322.4 466,322.3 468,322.1 470,321.7 472,321.1 474,320.4 476,319.6 478,318.8 480,318 482,317.5 484,316.8 486,316 488,315.3 490,314.6 492,314 494,313.4 496,312.8 498,312.4 500,312.2 502,312.1 504,312 506,312 508,311.9 510,311.8 512,311.8 514,311.9 516,312.1 518,312.2 520,312.4 522,312.6 524,312.7 526,312.9 528,313 530,313 532,313.1 534,313.2 536,313.3 538,313.4 540,313.5 542,313.6 544,313.7 546,313.8 548,313.9 550,314 552,314.1 554,314.2 556,314.3 558,314.4 560,314.5 562,314.7 564,314.9 566,315.2 568,315.6 570,316 572,317.6 574,319.5 576,321.5 578,323.7 580,326 582,328.6 584,331.6 586,334.9 588,338.4 590,342 592,345.4 594,349.2 596,353.2 598,357.4 600,361.8 602,366.1 604,370.7 606,376 608,383.9 610,393 610,412.3 608,406.5 606,402 604,398.2 602,395.1 600,392.2 598,389.4 596,386.7 594,384.2 592,381.9 590,380 588,379 586,378.1 584,377.4 582,377 580,377 578,377.3 576,377.7 574,378.3 572,379 570,380 568,379.8 566,379.6 564,379.5 562,379.5 560,379.5 558,379.6 556,379.7 554,379.8 552,379.9 550,380 548,380.1 546,380.2 544,380.3 542,380.4 540,380.5 538,380.6 536,380.7 534,380.8 532,380.9 530,381 528,380.8 526,380.6 524,380.3 522,379.9 520,379.6 518,379.3 516,378.9 514,378.6 512,378.4 510,378.2 508,378.1 506,378 504,378 502,377.9 500,377.8 498,377.9 496,378.1 494,378.5 492,379 490,379.4 488,379.9 486,380.5 484,381.1 482,381.7 480,382 478,382 476,382 474,382 472,381.9 470,381.7 468,381.3 466,380.7 464,380 462,379.1 460,378.3 458,377.5 456,376.5 454,375.4 452,374.3 450,373 448,370.9 446,368.4 444,365.9 442,363.6 440,361.3 438,359 436,356.9 434,355.8 432,354.9 430,354.1 428,353.4 426,353 424,352.9 422,353 420,353.1 418,353.3 416,353.7 414,354.3 412,355 410,355.5 408,355.9 406,356.2 404,356.4 402,356.7 400,357 398,357.4 396,357.7 394,358 392,358.3 390,358.7 388,358.9 386,359 384,359 382,359 380,359 378,359 376,358.7 374,357.9 372,356.9 370,356 368,355.1 366,355.1 364,355.3 362,356 360,357.3 358,359.1 356,361.1 354,363 352,364.9 350,364.3 348,363.6 346,362.4 344,360.7 342,358.6 340,356.4 338,354.3 336,352.3 334,351 332,350.5 330,350.1 328,350 326,350 324,350 322,350 320,350 318,350 316,349.7 314,349 312,348 310,346.9 308,345.8 306,344.4 304,343 302,341.5 300,340.1 298,338.6 296,337.3 294,335.9 292,334.6 290,334 288,334.5 286,335.7 284,337 282,338.9 280,341 278,342 276,341.8 274,341.5 272,341.2 270,341 268,341.5 266,342.6 264,344 262,345.2 260,346 258,346.4 256,346.7 254,346.9 252,347 250,346.5 248,346.2 246,345.7 244,345.7 242,346.2 240,346.7 238,347.5 236,349.3 234,352.2 232,355.2 230,358.1 228,361.1 226,362.4 224,363.5 222,364.5 220,364.5 218,363.9 216,363.3 214,363.2 212,363.7 210,364.2 208,364.6 206,364.8 204,365 202,365.2 200,365.6 198,366.2 196,366.9 194,367.7 192,368.4 190,369 188,368.7 186,368.3 184,367.6 182,366.9 180,366.2 178,365.2 176,363.8 174,362.5 172,361.6 170,360.9 168,360.4 166,360.1 164,361 162,363.2 160,364.8 158,365.3 156,365.5 154,364.9 152,362 150,357.8 148,355 146,355 144,355 142,355 140,355 138,354.8 136,354.2 134,353.5 132,352.7 130,352 128,351.3 126,350.5 124,349.8 122,349.2 120,349 118,349.1 116,349.4 114,349.6 112,349.9 110,350 108,349.9 106,349.6 104,349.4 102,349.1 100,349 98,349 96,349"/><polygon class="h1" points="96,409 98,409 100,409.1 102,409.2 104,409.4 106,409.6 108,409.9 110,410.2 112,410.4 114,410.6 116,410.8 118,411.1 120,411.3 122,411.8 124,412.4 126,413.1 128,413.9 130,414.5 132,415.1 134,415.8 136,416.4 138,416.6 140,416.2 142,415.2 144,413.9 146,412.7 148,411.3 150,409.7 152,408.4 154,407.8 156,408.3 158,409.3 160,410.7 162,412 164,413.2 166,414.6 168,416.2 170,417.7 172,419.1 174,420.3 176,421.6 178,422.9 180,424.3 182,425.9 184,427.3 186,428 188,427.7 190,427.4 192,427.1 194,426.9 196,425.8 198,423.9 200,422 202,418.3 204,414.6 206,410.8 208,406.9 210,402.7 212,398.4 214,394.1 216,391.8 218,389.5 220,387.2 222,385.1 224,383.1 226,381.3 228,380.4 230,380.4 232,380.5 234,381.5 236,382.7 238,384.3 240,386 242,387.9 244,390.1 246,392.2 248,394 250,395.5 252,397 254,398.2 256,399 258,399.1 260,399 262,398.8 264,398.6 266,397.5 268,395.7 270,394 272,392.8 274,391.7 276,390.6 278,389.6 280,388.2 282,386.7 284,385.5 286,385.5 288,386.9 290,389.4 292,392 294,394.5 296,397.2 298,399.5 300,401 302,401.3 304,401.5 306,401.6 308,401.8 310,402 312,402.4 314,402.9 316,403.6 318,404.3 320,405 322,405.8 324,406.6 326,407.5 328,408.3 330,409 332,409.7 334,410.3 336,410.8 338,411 340,409.1 342,406 344,402.9 346,401 348,401 350,401 352,401 354,401 356,401.3 358,402.1 360,403.3 362,404.6 364,406 366,407.7 368,409.9 370,412.1 372,414 374,415.6 376,417.3 378,418.5 380,419 382,418.8 384,418.4 386,417.8 388,417 390,415.4 392,412.7 394,410 396,407.3 398,404.4 400,402 402,399.8 404,397.8 406,396.2 408,395.2 410,394.6 412,394.1 414,393.7 416,393.4 418,393.5 420,394 422,394.8 424,395.6 426,396.5 428,397.6 430,398.8 432,399.8 434,400.6 436,401.2 438,402 440,403 442,404.6 444,406.9 446,409.6 448,412.4 450,414.9 452,417.7 454,420.7 456,423.1 458,424 460,423.1 462,421.3 464,419.1 466,417 468,415.1 470,413.2 472,411.2 474,409.4 476,407.8 478,406.4 480,405.2 482,404 484,402.8 486,401.2 488,399.4 490,397.6 492,396.5 494,396 496,396.3 498,396.9 500,397.8 502,398.5 504,399 506,399.3 508,399.5 510,399.7 512,399.9 514,400 516,400 518,400 520,400 522,400 524,400 526,400 528,400.3 530,401.2 532,402.2 534,403.2 536,404 538,404.5 540,405.1 542,405.7 544,406.1 546,406.3 548,405.7 550,404 552,402 554,400 556,398.8 558,398.2 560,397.6 562,397.3 564,397.2 566,397.7 568,398.8 570,400.2 572,401.6 574,403.1 576,404.7 578,406.4 580,408 582,409.9 584,411.6 586,413.3 588,415.1 590,417 592,419.1 594,421.3 596,423.7 598,425.9 600,428 602,430.1 604,432 606,433.9 608,436.1 610,439 612,446.1 614,460 614,488 612,486.1 610,481 608,480.1 606,479.9 604,480 602,480.1 600,480 598,479.1 596,478.1 594,476.9 592,475.9 590,475 588,474.3 586,473.7 584,473.2 582,472.7 580,472 578,470.6 576,469.1 574,467.7 572,466.4 570,465.2 568,464 566,463.1 564,462.8 562,463.1 560,463.6 558,464.4 556,465.2 554,466.6 552,468.8 550,471 548,472.9 546,473.7 544,473.7 542,473.5 540,473.1 538,472.4 536,471.7 534,470.8 532,469.6 530,468.4 528,467.4 526,466.9 524,466.7 522,466.6 520,466.4 518,466.2 516,466.1 514,465.9 512,465.6 510,465.3 508,464.9 506,464.5 504,464.1 502,463.5 500,462.6 498,461.6 496,460.7 494,460.3 492,460.6 490,461.6 488,462.5 486,463.4 484,464.1 482,464.5 480,464.8 478,465.1 476,465.6 474,466.4 472,467.3 470,468.4 468,469.5 466,470.5 464,471.7 462,473 460,474 458,474 456,472.9 454,470.3 452,467 450,464 448,461.2 446,458.3 444,455.4 442,452.9 440,451 438,449.5 436,448.2 434,447.1 432,445.8 430,444.3 428,442.6 426,441 424,439.6 422,438.3 420,437 418,436 416,435.4 414,435.2 412,435.1 410,435.1 408,435.2 406,435.7 404,436.8 402,438.3 400,440 398,442.3 396,445.1 394,447.8 392,450.5 390,453 388,454.6 386,455.3 384,455.9 382,456.2 380,456.3 378,455.8 376,454.5 374,452.8 372,451.1 370,449.1 368,446.8 366,444.6 364,442.8 362,441.3 360,439.9 358,438.7 356,437.8 354,437.5 352,437.4 350,437.3 348,437.3 346,437.2 344,439 342,442.1 340,445.1 338,447 336,446.8 334,446.3 332,445.7 330,445 328,444.3 326,443.5 324,442.6 322,441.8 320,441 318,440.3 316,439.6 314,438.9 312,438.4 310,438 308,437.8 306,437.6 304,437.5 302,437.3 300,437 298,436 296,434.2 294,432 292,430 290,427.9 288,425.9 286,425 284,425.5 282,426.7 280,428.1 278,429.4 276,430.4 274,431.3 272,432.4 270,433.5 268,435.1 266,436.9 264,437.9 262,438.1 260,438.2 258,438.1 256,438 254,437.6 252,436.8 250,435.8 248,434.7 246,433.3 244,431.6 242,429.8 240,428.3 238,427.1 236,425.9 234,425.1 232,424.5 230,424.4 228,424.4 226,425.3 224,427.1 222,429.1 220,431.2 218,433.5 216,435.8 214,438.1 212,441.3 210,444.4 208,447.4 206,450.2 204,452.9 202,455.4 200,458 198,460.2 196,462.4 194,463.7 192,464.3 190,464.9 188,465.4 186,466 184,464.2 182,461.8 180,459.2 178,456.7 176,454.4 174,452.1 172,449.7 170,447.3 168,444.8 166,442.2 164,440.2 162,439 160,437.8 158,436.4 156,435.4 154,435 152,435.6 150,436.9 148,438.6 146,440 144,441.2 142,442.6 140,443.6 138,444 136,443.8 134,443.3 132,442.6 130,442 128,441.4 126,440.7 124,440 122,439.4 120,439 118,438.7 116,438.5 114,438.4 112,438.2 110,438 108,437.8 106,437.5 104,437.3 102,437.1 100,437 98,437 96,437"/><polygon class="h1" style="fill-opacity:.13" points="590,118 610,128 640,148 664,164 670,172 664,182 640,186 610,180 590,170"/><polygon class="h1" style="fill-opacity:.09" points="590,126 610,136 636,152 650,164 636,176 610,170 590,160"/><rect class="h1" fill-opacity=".3" x="236" y="563" width="100" height="20"/><rect class="h1" fill-opacity=".45" x="388" y="563" width="36" height="18"/></g>
<g filter="url(#b2)"><polygon class="h2" points="96,124.9 98,124.9 100,124.9 102,124.5 104,123.5 106,122.4 108,121.4 110,121 112,121.4 114,122.4 116,123.6 118,124.6 120,125 122,125.1 124,125.1 126,125.1 128,125.1 130,125.1 132,124.9 134,124.2 136,123.4 138,122.7 140,122.2 142,121.9 144,121.6 146,121.4 148,121.3 150,121.2 152,121.4 154,121.9 156,122.5 158,123.2 160,123.7 162,124 164,124.4 166,124.7 168,125 170,125.3 172,125.8 174,126.3 176,126.8 178,127.2 180,127.4 182,127.3 184,127.1 186,126.8 188,126.6 190,126.5 192,126.5 194,126.5 196,126.5 198,126.5 200,126.5 202,126.7 204,127.2 206,128.1 208,129.1 210,130.1 212,131.1 214,132.2 216,133.5 218,135 220,137.6 222,140.7 224,142.5 226,143 228,143.4 230,143.5 232,142.9 234,141.4 236,139.5 238,135.5 240,130.9 242,126 244,122.3 246,120.5 248,118.9 250,117.6 252,116.2 254,114.9 256,113.6 258,112.3 260,111 262,109.7 264,109.6 266,109.5 268,109.4 270,109.2 272,108.7 274,107.9 276,107 278,106.2 280,105.5 282,105 284,104.6 286,104.2 288,103.9 290,103.9 292,104.1 294,104.5 296,105.1 298,105.7 300,106.2 302,106.9 304,107.5 306,108.1 308,108.8 310,109.5 312,110.3 314,111.2 316,112.1 318,112.5 320,111.1 322,107.9 324,105.3 326,103.8 328,102.5 330,102.1 332,102.2 334,102.4 336,102.7 338,103.1 340,104.2 342,106.3 344,108.8 346,111.1 348,113.2 350,115.4 352,117.5 354,119.9 356,122 358,124 360,125.2 362,125.7 364,125.8 366,125.6 368,124.8 370,123.2 372,120.9 374,115.8 376,111.3 378,109.5 380,108.3 382,108 384,109.2 386,110.5 388,112.2 390,114.8 392,118.2 394,121.3 396,124.1 398,126.6 400,128.4 402,130.1 404,131.3 406,132.2 408,132.7 410,133 412,133.3 414,133.7 416,134.4 418,135.3 420,135.5 422,135.5 424,134.2 426,132.6 428,130.5 430,127.8 432,125.7 434,124.4 436,123.4 438,122.9 440,122.6 442,121.5 444,120.7 446,120.1 448,119.6 450,119.4 452,119.5 454,120.1 456,120.8 458,121.5 460,121.9 462,122.1 464,122.2 466,122.4 468,122.7 470,122.8 472,122.9 474,123 476,123.1 478,123.2 480,123.2 482,123.5 484,124.1 486,124.8 488,125.4 490,125.7 492,125.3 494,124.4 496,123.1 498,122.1 500,122.2 502,123.3 504,124.8 506,126 508,127.3 510,128.9 512,130.4 514,131.4 516,131.5 518,130.7 520,129.3 522,127.7 524,126.1 526,124.6 528,123 530,121.5 532,120 534,118.7 536,117.6 538,116.5 540,115.5 542,114.5 544,113.5 546,113.1 548,112.9 550,112.8 552,112.9 554,113.1 556,113.4 558,113.8 560,114.2 562,114.7 564,115.1 566,115.6 568,116.1 570,116.6 572,117.2 574,117.8 576,118.6 578,119.4 580,120.3 582,121.4 584,122.6 586,123.9 588,125.4 588,161 586,160.1 584,159.2 582,158.5 580,158 578,157.6 576,157.3 574,156.8 572,156.2 570,155.6 568,155.1 566,154.6 564,154.1 562,153.7 560,153.2 558,152.8 556,152.4 554,152.1 552,151.9 550,151.8 548,151.9 546,152.1 544,152.5 542,152.9 540,153.4 538,153.9 536,154.4 534,155 532,155.8 530,156.7 528,157.7 526,158.8 524,159.7 522,160.7 520,161.9 518,162.7 516,163 514,162.3 512,160.6 510,158.5 508,156.3 506,154.3 504,152.4 502,150.3 500,148.6 498,147.8 496,148.1 494,149.1 492,150 490,150.4 488,150.1 486,149.5 484,148.8 482,148.2 480,147.9 478,147.9 476,147.8 474,147.7 472,147.6 470,147.5 468,147.4 466,147.1 464,146.8 462,146.3 460,145.8 458,145.1 456,144.1 454,143.1 452,142.2 450,141.7 448,141.7 446,141.8 444,142.1 442,142.6 440,143.4 438,144.5 436,145.9 434,147.7 432,149.9 430,152.9 428,156.4 426,159.3 424,161.8 422,163.9 420,164.8 418,164 416,162.5 414,161.2 412,160.2 410,159.4 408,158.5 406,157.4 404,155.9 402,154 400,151.8 398,149 396,145.5 394,141.8 392,137.7 390,133.3 388,129.8 386,127.1 384,124.8 382,123.8 380,124.4 378,125.8 376,127.8 374,132.5 372,137.8 370,140.7 368,143 366,144.4 364,145.3 362,145.9 360,146 358,145.4 356,144.1 354,142.6 352,140.9 350,139.2 348,137.3 346,135.6 344,133.6 342,131.5 340,129.8 338,129 336,128.9 334,129 332,129.1 330,129.4 328,130.1 326,131.7 324,133.5 322,136.4 320,139.9 318,141.7 316,141.5 314,141 312,140.4 310,139.8 308,139.4 306,139.1 304,138.7 302,138.4 300,138.1 298,137.5 296,136.9 294,136.3 292,135.8 290,135.5 288,135.6 286,135.8 284,136.1 282,136.6 280,137 278,137.6 276,138.5 274,139.3 272,140.1 270,140.5 268,140.7 266,140.8 264,140.9 262,140.9 260,141.8 258,142.8 256,143.7 254,144.6 252,145.6 250,146.6 248,147.5 246,148.2 244,149.2 242,152 240,156 238,159.7 236,162.9 234,164.2 232,165.2 230,165.2 228,164.5 226,163.6 224,162.6 222,160.2 220,156.8 218,153.9 216,152.1 214,150.5 212,149.1 210,147.8 208,146.5 206,145.1 204,144.1 202,143.6 200,143.4 198,143.4 196,143.4 194,143.4 192,143.4 190,143.4 188,143.6 186,143.8 184,144.1 182,144.3 180,144.4 178,144.3 176,143.9 174,143.4 172,142.9 170,142.4 168,142.1 166,141.8 164,141.5 162,141.2 160,140.8 158,140.4 156,139.7 154,139.1 152,138.6 150,138.4 148,138.5 146,138.7 144,138.9 142,139.2 140,139.4 138,140 136,140.7 134,141.5 132,142.2 130,142.4 128,142.4 126,142.4 124,142.4 122,142.4 120,142.4 118,142 116,141 114,139.9 112,138.9 110,138.4 108,138.9 106,139.9 104,141 102,142 100,142.4 98,142.4 96,142.4"/><polygon class="h2" points="96,204.6 98,204.6 100,204.6 102,204.6 104,204.6 106,204.7 108,204.7 110,204.7 112,204.3 114,203.1 116,201.8 118,199.7 120,197.1 122,195.9 124,196.1 126,196.7 128,197.4 130,198 132,198.4 134,198.8 136,199.2 138,199.6 140,200.1 142,200.6 144,201.2 146,202 148,203.2 150,206.5 152,210.3 154,212.4 156,214 158,214.7 160,214.6 162,214.3 164,213.7 166,213.2 168,212.8 170,212.2 172,211.6 174,211.1 176,210.7 178,210.6 180,210.5 182,210.3 184,210 186,208.9 188,207.1 190,206 192,205.6 194,205.3 196,205.1 198,205 200,205.6 202,206.8 204,208 206,208.9 208,209.7 210,210.4 212,210.8 214,211.1 216,211.2 218,211.4 220,211.6 222,212 224,212.5 226,212.1 228,209.6 230,205.1 232,200.7 234,196.2 236,191.7 238,189.2 240,188.9 242,190.1 244,191.4 246,192.8 248,194.5 250,195.8 252,196.4 254,196.2 256,195.7 258,195.1 260,194.4 262,193.7 264,192.3 266,190.8 268,189.2 270,187.4 272,185.4 274,183.1 276,181 278,178.8 280,178.7 282,179.5 284,181.3 286,183.6 288,186.1 290,188.6 292,189.7 294,191.2 296,192.5 298,193.3 300,193.7 302,194 304,194 306,193.6 308,192.7 310,191.7 312,190.7 314,189.7 316,188.7 318,187.8 320,187.4 322,187.7 324,189.2 326,191 328,192.8 330,194.6 332,196.7 334,198.7 336,200.7 338,202.5 340,203.8 342,205 344,206.2 346,207.7 348,209.3 350,210.7 352,211.2 354,210 356,207.4 358,204.8 360,202.7 362,200.7 364,199.3 366,198.3 368,197.5 370,197 372,196.8 374,196.8 376,197 378,197.3 380,197.6 382,198 384,198.6 386,199.4 388,200.4 390,202.1 392,204.6 394,205.9 396,207.3 398,208.8 400,209.8 402,210.2 404,210.4 406,209.6 408,205.1 410,198.9 412,196 414,193.5 416,191.3 418,189.2 420,187.3 422,185.7 424,184.2 426,182.7 428,181.6 430,181.2 432,184.1 434,188.6 436,193 438,196.9 440,200.5 442,203.1 444,205.3 446,207.4 448,209.5 450,210.2 452,211.1 454,211.9 456,212.5 458,213 460,213.4 462,213.8 464,214.2 466,214.5 468,214.8 470,215.2 472,215.4 474,215.5 476,213.6 478,210.3 480,207.6 482,205.5 484,203.7 486,202.6 488,202.3 490,202.5 492,203.2 494,203.7 496,204.2 498,204.6 500,204.7 502,204.3 504,203.7 506,203 508,202.3 510,202 512,202.3 514,203.1 516,204.2 518,205.1 520,205.3 522,204.6 524,203 526,201.1 528,199.5 530,198.7 532,199.2 534,200.2 536,201.5 538,202.5 540,203 542,202.6 544,201.7 546,200.6 548,199.6 550,199.3 552,199.5 554,200.1 556,200.7 558,201.3 560,201.6 562,201.4 564,201 566,200.4 568,200 570,199.9 572,200.2 574,200.9 576,202 578,203.5 580,204.9 582,206.5 584,208.2 586,210.2 588,212.4 590,214.8 592,217.6 594,220.8 596,224.5 598,229 600,233.6 602,238.7 604,243.9 604,256.8 602,253 600,249.7 598,246.7 596,244 594,241.7 592,239.8 590,238.4 588,237.3 586,236.5 584,235.9 582,235.5 580,235.3 578,235.2 576,235.1 574,234.7 572,234.1 570,233.9 568,234.2 566,234.8 564,235.4 562,236 560,236.2 558,236.1 556,235.6 554,235.1 552,234.7 550,234.5 548,235 546,236 544,237.3 542,238.3 540,238.8 538,238.5 536,237.5 534,236.4 532,235.5 530,235.1 528,235.7 526,237.1 524,238.8 522,240.2 520,240.8 518,240.3 516,239.2 514,238 512,236.9 510,236.4 508,236.6 506,237 504,237.6 502,238 500,238.1 498,237.9 496,237.3 494,236.6 492,235.9 490,235 488,233.4 486,232.2 484,231.8 482,232.2 480,232.7 478,234.1 476,235.9 474,236.3 472,236 470,235.6 468,235 466,234.5 464,234 462,233.4 460,232.8 458,232.2 456,231.5 454,230.7 452,229.7 450,228.6 448,227.7 446,227 444,226.4 442,225.7 440,224.5 438,222.3 436,219.8 434,216.9 432,213.9 430,212.4 428,214.3 426,217 424,220 422,223.1 420,226.3 418,229.8 416,233.4 414,237.2 412,241.3 410,245.7 408,248.6 406,249.9 404,247.4 402,244 400,240.3 398,236.1 396,231.3 394,226.7 392,222.1 390,219.6 388,217.8 386,216.7 384,215.9 382,215.3 380,214.8 378,214.4 376,214.1 374,213.9 372,213.8 370,214 368,214.4 366,217.5 364,220.6 362,224.3 360,228.5 358,232.9 356,237.6 354,242.5 352,241.6 350,238.9 348,235.5 346,231.7 344,228.1 342,224.8 340,221.5 338,218.1 336,216.6 334,214.8 332,213 330,211.2 328,209.6 326,208 324,206.5 322,205.4 320,205 318,205.3 316,206.1 314,207.1 312,208 310,208.9 308,209.9 306,210.7 304,211 302,210.9 300,210.5 298,210 296,209.1 294,207.7 292,206.2 290,205 288,204 286,203.1 284,202.5 282,202.3 280,203.1 278,204.8 276,206.7 274,208.5 272,210.5 270,212.2 268,213.5 266,214.8 264,216 262,217.1 260,218.5 258,219.9 256,221.3 254,222.4 252,223.3 250,223.5 248,222.8 246,221.9 244,221.2 242,220.6 240,220.1 238,219.4 236,220.9 234,224.4 232,227.9 230,231.5 228,235 226,236.5 224,235.9 222,234.6 220,233.4 218,232.5 216,231.6 214,230.7 212,229.7 210,228.5 208,227 206,225.5 204,224 202,222.3 200,220.7 198,221.1 196,222.2 194,223.4 192,224.8 190,226.2 188,228.4 186,231.1 184,231.3 182,230.6 180,229.9 178,229.1 176,228.4 174,227.8 172,227.5 170,227.2 168,227.8 166,228.3 164,228.9 162,229.5 160,229.9 158,230.1 156,229.4 154,227.9 152,225.9 150,222.1 148,218.8 146,217.7 144,216.9 142,216.3 140,215.8 138,215.3 136,214.9 134,214.6 132,214.2 130,213.8 128,213.2 126,212.6 124,212 122,211.8 120,213.1 118,215.7 116,217.8 114,219.2 112,220.3 110,220.8 108,220.8 106,220.8 104,220.8 102,220.8 100,220.8 98,220.8 96,220.8"/><polygon class="h2" points="96,326.9 98,326.9 100,326.9 102,327.1 104,327.4 106,327.7 108,327.9 110,328.1 112,328 114,327.8 116,327.5 118,327.3 120,327.2 122,327.4 124,328 126,328.8 128,329.6 130,330.3 132,331 134,331.9 136,332.6 138,333.2 140,333.4 142,333.5 144,333.5 146,333.5 148,333.6 150,335.2 152,338.1 154,339.8 156,339.2 158,337.8 160,336 162,333.2 164,329.8 166,328.3 168,328.5 170,329 172,329.6 174,330.5 176,331.7 178,333 180,334 182,334.7 184,335.3 186,335.9 188,336.3 190,336.5 192,336.3 194,335.9 196,335.5 198,335.2 200,335 202,335 204,335.1 206,335.3 208,335.5 210,335.5 212,335.4 214,335.3 216,334.4 218,332.8 220,331.2 222,328.9 224,325.7 226,322.4 228,318.9 230,316.6 232,314.3 234,312 236,309.7 238,308.6 240,308.5 242,308.7 244,308.9 246,309.6 248,310.7 250,311.7 252,312.6 254,312.9 256,313.1 258,313.1 260,313.1 262,312.8 264,311.9 266,310.9 268,310.2 270,310.1 272,310.6 274,311.4 276,312.1 278,312.7 280,312 282,310.3 284,308.8 286,307.9 288,307.1 290,307 292,308 294,309.7 296,311.4 298,313.1 300,315 302,316.8 304,318.6 306,320.5 308,322.2 310,323.7 312,325.2 314,326.2 316,326.9 318,327.2 320,327.2 322,327.2 324,327.2 326,327.2 328,327.2 330,327.3 332,327.7 334,328.2 336,328.1 338,327.4 340,326.7 342,326.1 344,325.5 346,324.5 348,322.9 350,320.9 352,318.7 354,318.9 356,319.2 358,319.3 360,319.7 362,320.5 364,322 366,323.9 368,326 370,326.9 372,327.8 374,328.8 376,329.6 378,329.9 380,329.9 382,329.9 384,329.9 386,329.9 388,329.8 390,329.6 392,329.2 394,328.9 396,328 398,326.4 400,324.8 402,323.3 404,321.7 406,320.2 408,318.7 410,317.1 412,315.3 414,313.4 416,312.3 418,312.2 420,312.4 422,312.5 424,312.8 426,313.2 428,313.9 430,314.9 432,316 434,317.2 436,318.6 438,319.9 440,321.3 442,322.7 444,324.2 446,325.9 448,327.4 450,328.7 452,329.4 454,329.9 456,330.4 458,330.7 460,331 462,331.2 464,331.4 466,331.5 468,331.5 470,331.2 472,330.8 474,330.3 476,329.8 478,329.1 480,328.5 482,328 484,327.4 486,326.6 488,325.9 490,325.2 492,324.7 494,324.1 496,323.6 498,323.2 500,323 502,322.9 504,322.9 506,322.8 508,322.8 510,322.7 512,322.7 514,322.9 516,323.1 518,323.3 520,323.5 522,323.6 524,323.9 526,324 528,324.2 530,324.2 532,324.3 534,324.3 536,324.4 538,324.5 540,324.5 542,324.6 544,324.7 546,324.7 548,324.8 550,324.9 552,324.9 554,325 556,325 558,325.1 560,325.2 562,325.3 564,325.5 566,325.8 568,326.1 570,326.5 572,327.7 574,329.1 576,330.8 578,332.5 580,334.4 582,336.6 584,339.1 586,342 588,345.1 590,348.3 592,351.5 594,355 596,358.7 598,362.7 600,366.7 602,370.8 604,375.2 606,380.2 608,387.4 610,395 610,408.4 608,402.1 606,397.1 604,393 602,389.7 600,386.6 598,383.5 596,380.5 594,377.7 592,375.2 590,373 588,371.5 586,370.1 584,368.9 582,368 580,367.6 578,367.4 576,367.3 574,367.4 572,367.6 570,368.1 568,367.9 566,367.6 564,367.5 562,367.4 560,367.4 558,367.5 556,367.6 554,367.6 552,367.7 550,367.8 548,367.8 546,367.9 544,367.9 542,368 540,368.1 538,368.1 536,368.2 534,368.3 532,368.3 530,368.4 528,368.3 526,368 524,367.7 522,367.4 520,367.1 518,366.9 516,366.5 514,366.2 512,366 510,365.9 508,365.8 506,365.8 504,365.7 502,365.7 500,365.6 498,365.7 496,366 494,366.4 492,366.9 490,367.4 488,367.9 486,368.5 484,369.2 482,369.7 480,370.1 478,370.2 476,370.3 474,370.4 472,370.4 470,370.2 468,369.9 466,369.4 464,368.8 462,368.1 460,367.4 458,366.6 456,365.7 454,364.8 452,363.7 450,362.5 448,360.7 446,358.5 444,356.3 442,354.3 440,352.3 438,350.3 436,348.5 434,347.5 432,346.6 430,345.9 428,345.3 426,345 424,344.9 422,345 420,345.2 418,345.5 416,345.9 414,346.6 412,347.4 410,348 408,348.4 406,348.8 404,349.1 402,349.5 400,349.9 398,350.3 396,350.7 394,351 392,351.3 390,351.7 388,351.9 386,352 384,352 382,352 380,352 378,352 376,351.7 374,350.9 372,349.9 370,349 368,348.1 366,347.8 364,347.6 362,347.9 360,348.9 358,350.4 356,352 354,353.6 352,355.1 350,355.1 348,354.9 346,354.2 344,353 342,351.5 340,349.8 338,348.2 336,346.8 334,345.7 332,345.2 330,344.9 328,344.8 326,344.8 324,344.8 322,344.8 320,344.8 318,344.8 316,344.5 314,343.7 312,342.7 310,341.7 308,340.6 306,339.3 304,337.8 302,336.5 300,335 298,333.6 296,332.3 294,330.9 292,329.7 290,329.1 288,329.6 286,330.8 284,332.1 282,334 280,336.1 278,337.1 276,336.9 274,336.6 272,336.3 270,336.1 268,336.6 266,337.7 264,339.1 262,340.3 260,341.1 258,341.5 256,341.8 254,342 252,342.1 250,341.6 248,340.9 246,340.2 244,339.9 242,340 240,340.2 238,340.6 236,342.1 234,344.7 232,347.4 230,350 228,352.7 226,354.2 224,355.5 222,356.7 220,357 218,356.6 216,356.2 214,356.2 212,356.5 210,356.8 208,357 206,357.1 204,357.1 202,357.1 200,357.3 198,357.8 196,358.3 194,358.9 192,359.5 190,359.9 188,359.7 186,359.3 184,358.7 182,358.1 180,357.4 178,356.4 176,355.1 174,353.9 172,353 170,352.4 168,351.9 166,351.7 164,352.9 162,355.5 160,357.5 158,358.5 156,359.2 154,359 152,356.6 150,352.8 148,350.4 146,350.4 144,350.4 142,350.4 140,350.4 138,350.2 136,349.7 134,348.9 132,348.1 130,347.4 128,346.8 126,346 124,345.2 122,344.7 120,344.4 118,344.6 116,344.8 114,345.1 112,345.3 110,345.4 108,345.3 106,345.1 104,344.8 102,344.6 100,344.4 98,344.4 96,344.4"/><polygon class="h2" points="96,413.9 98,413.9 100,413.9 102,414 104,414.2 106,414.5 108,414.8 110,415 112,415.2 114,415.4 116,415.6 118,415.8 120,416.1 122,416.6 124,417.2 126,417.9 128,418.6 130,419.2 132,419.9 134,420.5 136,421.1 138,421.3 140,420.9 142,419.9 144,418.6 146,417.4 148,416 150,414.4 152,413 154,412.4 156,412.9 158,413.9 160,415.3 162,416.5 164,417.7 166,419.1 168,420.6 170,422 172,423.3 174,424.4 176,425.6 178,426.8 180,428.1 182,429.6 184,430.9 186,431.5 188,431.3 190,431.1 192,430.9 194,430.8 196,429.8 198,428 200,426.2 202,423.3 204,420.4 206,417.4 208,414.3 210,410.9 212,407.4 214,403.9 216,401.7 218,399.4 220,397.2 222,395.2 224,393.3 226,391.6 228,390.8 230,390.8 232,391 234,391.8 236,392.9 238,394.3 240,395.8 242,397.5 244,399.5 246,401.5 248,403.1 250,404.5 252,405.8 254,406.8 256,407.4 258,407.4 260,407.3 262,407.1 264,406.8 266,405.7 268,403.8 270,402.1 272,400.8 274,399.6 276,398.5 278,397.4 280,396 282,394.5 284,393.2 286,393 288,394.3 290,396.6 292,399 294,401.3 296,403.8 298,406 300,407.3 302,407.6 304,407.8 306,407.9 308,408.1 310,408.3 312,408.7 314,409.2 316,409.9 318,410.6 320,411.3 322,412.1 324,412.9 326,413.8 328,414.6 330,415.3 332,416 334,416.6 336,417.1 338,417.3 340,415.4 342,412.3 344,409.2 346,407.3 348,407.3 350,407.3 352,407.3 354,407.3 356,407.6 358,408.4 360,409.6 362,410.9 364,412.3 366,414 368,416.2 370,418.4 372,420.3 374,421.9 376,423.6 378,424.8 380,425.3 382,425.1 384,424.7 386,424.1 388,423.3 390,421.7 392,419 394,416.3 396,413.6 398,410.7 400,408.3 402,406.2 404,404.3 406,402.7 408,401.8 410,401.3 412,400.8 414,400.5 416,400.3 418,400.4 420,401 422,401.9 424,402.7 426,403.7 428,404.9 430,406.1 432,407.2 434,408.1 436,408.8 438,409.6 440,410.7 442,412.4 444,414.8 446,417.5 448,420.4 450,423 452,425.8 454,429 456,431.5 458,432.4 460,431.6 462,429.8 464,427.7 466,425.8 468,424 470,422.1 472,420.2 474,418.5 476,416.9 478,415.7 480,414.5 482,413.5 484,412.3 486,410.8 488,409.1 490,407.4 492,406.3 494,405.8 496,406.1 498,406.7 500,407.6 502,408.3 504,408.8 506,409.1 508,409.3 510,409.5 512,409.7 514,409.8 516,409.8 518,409.8 520,409.8 522,409.8 524,409.8 526,409.8 528,410.1 530,411 532,412 534,413 536,413.8 538,414.3 540,414.9 542,415.4 544,415.8 546,416 548,415.3 550,413.7 552,411.5 554,409.6 556,408.3 558,407.7 560,407.1 562,406.7 564,406.6 566,407 568,408.1 570,409.5 572,410.8 574,412.3 576,413.9 578,415.6 580,417.1 582,418.8 584,420.3 586,421.8 588,423.4 590,425.1 592,426.9 594,429 596,431.1 598,433.1 600,435 602,436.8 604,438.3 606,439.8 608,441.7 610,444.2 612,451 614,463.5 614,481.7 612,477 610,471.6 608,470.3 606,469.7 604,469.5 602,469.3 600,468.8 598,467.7 596,466.4 594,465.1 592,463.9 590,462.8 588,461.9 586,461.1 584,460.3 582,459.6 580,458.7 578,457.3 576,455.8 574,454.3 572,453 570,451.7 568,450.5 566,449.6 564,449.2 562,449.5 560,450 558,450.7 556,451.5 554,452.9 552,455 550,457.2 548,459 546,459.8 544,459.7 542,459.5 540,459.1 538,458.4 536,457.8 534,456.9 532,455.8 530,454.6 528,453.7 526,453.3 524,453.2 522,453.1 520,453 518,452.9 516,452.8 514,452.6 512,452.4 510,452.1 508,451.8 506,451.5 504,451.1 502,450.5 500,449.7 498,448.7 496,448 494,447.6 492,448 490,449 488,450.1 486,451.3 484,452.2 482,452.8 480,453.3 478,453.9 476,454.6 474,455.5 472,456.7 470,458 468,459.3 466,460.5 464,461.9 462,463.5 460,464.7 458,464.9 456,463.8 454,461.2 452,457.9 450,454.9 448,452.1 446,449.2 444,446.3 442,443.8 440,441.9 438,440.5 436,439.4 434,438.3 432,437.1 430,435.7 428,434.1 426,432.6 424,431.3 422,430.1 420,429 418,428 416,427.6 414,427.4 412,427.5 410,427.6 408,427.8 406,428.4 404,429.6 402,431.2 400,433 398,435.3 396,438.2 394,440.9 392,443.6 390,446.1 388,447.7 386,448.5 384,449.1 382,449.5 380,449.6 378,449 376,447.7 374,446.1 372,444.4 370,442.5 368,440.2 366,438 364,436.2 362,434.8 360,433.4 358,432.2 356,431.4 354,431 352,431 350,430.9 348,430.9 346,430.8 344,432.7 342,435.7 340,438.8 338,440.7 336,440.5 334,440 332,439.4 330,438.7 328,438 326,437.2 324,436.3 322,435.5 320,434.7 318,434 316,433.3 314,432.6 312,432.1 310,431.7 308,431.5 306,431.3 304,431.2 302,431 300,430.7 298,429.7 296,427.9 294,425.7 292,423.7 290,421.6 288,419.6 286,418.7 284,419.2 282,420.4 280,421.9 278,423.3 276,424.4 274,425.4 272,426.5 270,427.7 268,429.4 266,431.3 264,432.3 262,432.6 260,432.8 258,432.8 256,432.8 254,432.4 252,431.6 250,430.6 248,429.5 246,428.2 244,426.5 242,424.8 240,423.3 238,422.1 236,420.9 234,420.2 232,419.6 230,419.4 228,419.4 226,420.2 224,421.9 222,423.8 220,425.8 218,428 216,430.3 214,432.5 212,435.3 210,438 208,440.6 206,443 204,445.3 202,447.4 200,449.6 198,451.6 196,453.6 194,454.7 192,455.1 190,455.5 188,455.8 186,456.2 184,454.9 182,453 180,450.8 178,448.7 176,446.9 174,445.1 172,443.2 170,441.3 168,439.2 166,437 164,435.3 162,434.1 160,432.9 158,431.5 156,430.5 154,430.1 152,430.7 150,432 148,433.7 146,435.1 144,436.4 142,437.7 140,438.7 138,439.1 136,438.9 134,438.4 132,437.7 130,437.1 128,436.5 126,435.8 124,435.1 122,434.5 120,434.1 118,433.8 116,433.6 114,433.5 112,433.3 110,433.1 108,432.9 106,432.6 104,432.4 102,432.2 100,432.1 98,432.1 96,432.1"/><rect class="h2" fill-opacity=".3" x="244" y="573" width="80" height="9"/><rect class="h2" fill-opacity=".48" x="546" y="568" width="14" height="12"/><rect class="h2" fill-opacity=".45" x="571" y="572" width="5" height="8"/></g>
<g filter="url(#b2)"><polygon class="cl" fill-opacity="0.04" points="242.5,135.6 244.5,133.2 246.5,130.1 248.5,127.2 250.5,124.3 252.5,121.4 254.5,118.5 254.5,136 252.5,135.5 250.5,135.1 248.5,134.7 246.5,134.3 244.5,134 242.5,135.6"/><polygon class="cl" fill-opacity="0.10" points="252.5,121.4 254.5,118.5 256.5,116.3 258.5,116 260.5,115.7 262.5,115.5 264.5,115.2 264.5,135.6 262.5,135.8 260.5,136 258.5,136.1 256.5,136.3 254.5,136 252.5,135.5"/><polygon class="cl" fill-opacity="0.11" points="262.5,115.5 264.5,115.2 266.5,115 268.5,114.6 270.5,114.2 272.5,113.5 274.5,112.5 274.5,133.4 272.5,134.3 270.5,134.9 268.5,135.2 266.5,135.4 264.5,135.6 262.5,135.8"/><polygon class="cl" fill-opacity="0.11" points="272.5,113.5 274.5,112.5 276.5,111.5 278.5,110.5 280.5,109.8 282.5,109.1 284.5,108.5 284.5,129.8 282.5,130.3 280.5,130.9 278.5,131.5 276.5,132.4 274.5,133.4 272.5,134.3"/><polygon class="cl" fill-opacity="0.11" points="282.5,109.1 284.5,108.5 286.5,108 288.5,107.6 290.5,107.4 292.5,107.6 294.5,107.9 294.5,129.6 292.5,129.2 290.5,129 288.5,129.1 286.5,129.4 284.5,129.8 282.5,130.3"/><polygon class="cl" fill-opacity="0.12" points="292.5,107.6 294.5,107.9 296.5,108.3 298.5,108.7 300.5,109.2 302.5,109.8 304.5,110.5 304.5,131.9 302.5,131.5 300.5,131.1 298.5,130.7 296.5,130.1 294.5,129.6 292.5,129.2"/><polygon class="cl" fill-opacity="0.11" points="302.5,109.8 304.5,110.5 306.5,111.1 308.5,111.8 310.5,112.5 312.5,113.4 314.5,114.3 314.5,134.4 312.5,133.7 310.5,133.1 308.5,132.7 306.5,132.3 304.5,131.9 302.5,131.5"/><polygon class="cl" fill-opacity="0.11" points="312.5,113.4 314.5,114.3 316.5,115.1 318.5,115.3 320.5,113.3 322.5,110 324.5,107.8 324.5,126.5 322.5,129 320.5,132.5 318.5,134.9 316.5,134.9 314.5,134.4 312.5,133.7"/><polygon class="cl" fill-opacity="0.10" points="322.5,110 324.5,107.8 326.5,106.3 328.5,105.2 330.5,105.5 332.5,107.4 334.5,109.5 334.5,122.1 332.5,122.4 330.5,122.9 328.5,123.4 326.5,124.7 324.5,126.5 322.5,129"/><polygon class="cl" fill-opacity="0.04" points="332.5,107.4 334.5,109.5 336.5,111.8 338.5,114.1 340.5,117.4 342.5,121.5 344.5,125.9 344.5,126.5 342.5,124.5 340.5,122.8 338.5,121.9 336.5,122 334.5,122.1 332.5,122.4"/><polygon class="cl" fill-opacity="0.04" points="502.5,133.7 504.5,134.9 506.5,135.8 508.5,136.9 510.5,138.3 512.5,139.4 514.5,139.9 514.5,152.9 512.5,150.6 510.5,147.7 508.5,144.6 506.5,141.7 504.5,138.9 502.5,136"/><polygon class="cl" fill-opacity="0.08" points="512.5,139.4 514.5,139.9 516.5,139.4 518.5,138 520.5,136.1 522.5,134.5 524.5,133 524.5,152.1 522.5,153.1 520.5,154.2 518.5,154.6 516.5,154.2 514.5,152.9 512.5,150.6"/><polygon class="cl" fill-opacity="0.09" points="522.5,134.5 524.5,133 526.5,131.5 528.5,130 530.5,128.5 532.5,127.1 534.5,125.9 534.5,147.3 532.5,148.1 530.5,149 528.5,150.1 526.5,151.1 524.5,152.1 522.5,153.1"/><polygon class="cl" fill-opacity="0.11" points="532.5,127.1 534.5,125.9 536.5,124.8 538.5,123.8 540.5,122.8 542.5,121.8 544.5,121 544.5,144.9 542.5,145.2 540.5,145.7 538.5,146.2 536.5,146.8 534.5,147.3 532.5,148.1"/><polygon class="cl" fill-opacity="0.11" points="542.5,121.8 544.5,121 546.5,120.6 548.5,120.4 550.5,120.4 552.5,120.5 554.5,120.8 554.5,144.2 552.5,144 550.5,144 548.5,144.1 546.5,144.5 544.5,144.9 542.5,145.2"/><polygon class="cl" fill-opacity="0.10" points="552.5,120.5 554.5,120.8 556.5,121.2 558.5,121.7 560.5,122.2 562.5,122.7 564.5,123.2 564.5,145.9 562.5,145.5 560.5,145.1 558.5,144.8 556.5,144.4 554.5,144.2 552.5,144"/><polygon class="cl" fill-opacity="0.09" points="562.5,122.7 564.5,123.2 566.5,123.7 568.5,124.3 570.5,124.9 572.5,125.5 574.5,126.2 574.5,148.2 572.5,147.7 570.5,147.2 568.5,146.7 566.5,146.3 564.5,145.9 562.5,145.5"/><polygon class="cl" fill-opacity="0.07" points="572.5,125.5 574.5,126.2 576.5,126.9 578.5,127.8 580.5,128.6 582.5,129.7 584.5,130.9 584.5,151.3 582.5,150.5 580.5,149.7 578.5,149.2 576.5,148.7 574.5,148.2 572.5,147.7"/><polygon class="cl" fill-opacity="0.05" points="582.5,129.7 584.5,130.9 586.5,132.2 588.5,133.6 590.5,135.1 592.5,136.6 594.5,138.2 594.5,157 592.5,155.8 590.5,154.6 588.5,153.5 586.5,152.4 584.5,151.3 582.5,150.5"/><polygon class="cl" fill-opacity="0.03" points="592.5,136.6 594.5,138.2 596.5,139.6 598.5,141 600.5,142.3 602.5,143.7 604.5,145.1 604.5,161.6 602.5,160.9 600.5,160.2 598.5,159.3 596.5,158.2 594.5,157 592.5,155.8"/><polygon class="cl" fill-opacity="0.02" points="602.5,143.7 604.5,145.1 606.5,146.5 608.5,147.9 610.5,149.3 612.5,150.6 614.5,151.8 614.5,164.8 612.5,164.2 610.5,163.6 608.5,162.9 606.5,162.3 604.5,161.6 602.5,160.9"/><polygon class="cl" fill-opacity="0.07" points="266.5,207.1 268.5,204.8 270.5,199 272.5,192.9 274.5,186.6 276.5,181.7 278.5,180.4 278.5,199.9 276.5,201.6 274.5,202.9 272.5,204.2 270.5,205.3 268.5,206.1 266.5,207.1"/><polygon class="cl" fill-opacity="0.12" points="276.5,181.7 278.5,180.4 280.5,179.3 282.5,179.3 284.5,180.1 286.5,182.3 288.5,187.3 288.5,199.6 286.5,199.1 284.5,198.4 282.5,198 280.5,198.4 278.5,199.9 276.5,201.6"/><polygon class="cl" fill-opacity="0.01" points="286.5,182.3 288.5,187.3 290.5,192.3 292.5,197.6 294.5,202.1 296.5,203.4 298.5,204.1 298.5,204.1 296.5,203.4 294.5,202.1 292.5,201 290.5,200.1 288.5,199.6 286.5,199.1"/><polygon class="cl" fill-opacity="0.06" points="396.5,219.8 398.5,219.6 400.5,218.7 402.5,217.5 404.5,215.9 406.5,213 408.5,206.5 408.5,238.2 406.5,241 404.5,238.5 402.5,234.8 400.5,230.7 398.5,226.3 396.5,221.1"/><polygon class="cl" fill-opacity="0.10" points="406.5,213 408.5,206.5 410.5,202.5 412.5,199.8 414.5,197.4 416.5,195.3 418.5,193.3 418.5,219 416.5,222.2 414.5,225.5 412.5,229.1 410.5,233 408.5,238.2 406.5,241"/><polygon class="cl" fill-opacity="0.10" points="416.5,195.3 418.5,193.3 420.5,191.5 422.5,190.1 424.5,188.6 426.5,187.2 428.5,187.3 428.5,206 426.5,208.1 424.5,210.7 422.5,213.4 420.5,216 418.5,219 416.5,222.2"/><polygon class="cl" fill-opacity="0.04" points="426.5,187.2 428.5,187.3 430.5,191.1 432.5,197 434.5,204 436.5,209.6 438.5,211.9 438.5,211.9 436.5,209.6 434.5,207.7 432.5,205.7 430.5,204.8 428.5,206 426.5,208.1"/><polygon class="cl" fill-opacity="0.03" points="476.5,220.1 478.5,217.2 480.5,214.2 482.5,211.7 484.5,209.5 486.5,208 488.5,207.4 488.5,221 486.5,219 484.5,217.9 482.5,217.5 480.5,217.4 478.5,217.9 476.5,220.1"/><polygon class="cl" fill-opacity="0.10" points="486.5,208 488.5,207.4 490.5,207.1 492.5,206.6 494.5,206.1 496.5,206.3 498.5,206.6 498.5,229.2 496.5,228.6 494.5,227.5 492.5,225.4 490.5,223.3 488.5,221 486.5,219"/><polygon class="cl" fill-opacity="0.12" points="496.5,206.3 498.5,206.6 500.5,206.5 502.5,206.1 504.5,205.4 506.5,204.6 508.5,204 508.5,228.2 506.5,228.5 504.5,228.9 502.5,229.3 500.5,229.4 498.5,229.2 496.5,228.6"/><polygon class="cl" fill-opacity="0.14" points="506.5,204.6 508.5,204 510.5,203.8 512.5,204.2 514.5,205.1 516.5,206.2 518.5,206.9 518.5,232.6 516.5,231.6 514.5,230.3 512.5,229 510.5,228.3 508.5,228.2 506.5,228.5"/><polygon class="cl" fill-opacity="0.15" points="516.5,206.2 518.5,206.9 520.5,207 522.5,206.2 524.5,204.6 526.5,202.9 528.5,201.7 528.5,227.1 526.5,228.5 524.5,230.3 522.5,232 520.5,232.9 518.5,232.6 516.5,231.6"/><polygon class="cl" fill-opacity="0.15" points="526.5,202.9 528.5,201.7 530.5,201.4 532.5,202.1 534.5,203.2 536.5,204.5 538.5,205.4 538.5,230.1 536.5,229.3 534.5,228.2 532.5,227.2 530.5,226.6 528.5,227.1 526.5,228.5"/><polygon class="cl" fill-opacity="0.14" points="536.5,204.5 538.5,205.4 540.5,205.7 542.5,205.2 544.5,204.2 546.5,203.1 548.5,202.3 548.5,226.2 546.5,227.2 544.5,228.4 542.5,229.6 540.5,230.2 538.5,230.1 536.5,229.3"/><polygon class="cl" fill-opacity="0.14" points="546.5,203.1 548.5,202.3 550.5,202.1 552.5,202.5 554.5,203.1 556.5,203.8 558.5,204.3 558.5,227.5 556.5,227.1 554.5,226.6 552.5,226.1 550.5,225.9 548.5,226.2 546.5,227.2"/><polygon class="cl" fill-opacity="0.13" points="556.5,203.8 558.5,204.3 560.5,204.5 562.5,204.2 564.5,203.8 566.5,203.3 568.5,202.9 568.5,225.4 566.5,225.9 564.5,226.5 562.5,227.1 560.5,227.5 558.5,227.5 556.5,227.1"/><polygon class="cl" fill-opacity="0.13" points="566.5,203.3 568.5,202.9 570.5,202.9 572.5,203.3 574.5,204.1 576.5,205.4 578.5,207 578.5,227.4 576.5,226.7 574.5,226.1 572.5,225.5 570.5,225.2 568.5,225.4 566.5,225.9"/><polygon class="cl" fill-opacity="0.11" points="576.5,205.4 578.5,207 580.5,208.6 582.5,210.3 584.5,212.2 586.5,214.3 588.5,216.6 588.5,232.3 586.5,230.9 584.5,229.7 582.5,228.7 580.5,228 578.5,227.4 576.5,226.7"/><polygon class="cl" fill-opacity="0.08" points="586.5,214.3 588.5,216.6 590.5,219.2 592.5,222.2 594.5,225.6 596.5,229.5 598.5,233.5 598.5,244.3 596.5,241.2 594.5,238.4 592.5,236 590.5,233.9 588.5,232.3 586.5,230.9"/><polygon class="cl" fill-opacity="0.04" points="596.5,229.5 598.5,233.5 600.5,237.8 602.5,242.6 604.5,247.8 606.5,252 606.5,259 604.5,255.6 602.5,251.3 600.5,247.6 598.5,244.3 596.5,241.2"/><polygon class="cl" fill-opacity="0.07" points="220.5,343 222.5,341.2 224.5,336.3 226.5,331.4 228.5,326.2 230.5,320.9 232.5,316.5 232.5,338.5 230.5,339.6 228.5,340.5 226.5,341.3 224.5,341.8 222.5,342.3 220.5,343"/><polygon class="cl" fill-opacity="0.14" points="230.5,320.9 232.5,316.5 234.5,314.2 236.5,312.2 238.5,311.5 240.5,311.6 242.5,311.9 242.5,333.9 240.5,333.6 238.5,333.5 236.5,334.2 234.5,336.2 232.5,338.5 230.5,339.6"/><polygon class="cl" fill-opacity="0.15" points="240.5,311.6 242.5,311.9 244.5,312.3 246.5,313.2 248.5,314.4 250.5,315.4 252.5,315.5 252.5,337.5 250.5,337.4 248.5,336.4 246.5,335.2 244.5,334.3 242.5,333.9 240.5,333.6"/><polygon class="cl" fill-opacity="0.16" points="250.5,315.4 252.5,315.5 254.5,315.3 256.5,314.9 258.5,314.4 260.5,313.9 262.5,313.3 262.5,334.9 260.5,335.9 258.5,336.4 256.5,336.9 254.5,337.3 252.5,337.5 250.5,337.4"/><polygon class="cl" fill-opacity="0.16" points="260.5,313.9 262.5,313.3 264.5,312.2 266.5,311.1 268.5,310.4 270.5,310.4 272.5,310.9 272.5,331.2 270.5,331 268.5,331.3 266.5,332.3 264.5,333.6 262.5,334.9 260.5,335.9"/><polygon class="cl" fill-opacity="0.15" points="270.5,310.4 272.5,310.9 274.5,311.5 276.5,312.1 278.5,312.4 280.5,311.2 282.5,309.3 282.5,328.3 280.5,330.5 278.5,331.9 276.5,331.9 274.5,331.6 272.5,331.2 270.5,331"/><polygon class="cl" fill-opacity="0.14" points="280.5,311.2 282.5,309.3 284.5,307.9 286.5,306.9 288.5,306.1 290.5,306.5 292.5,309.3 292.5,324.1 290.5,323.9 288.5,324.3 286.5,325.3 284.5,326.7 282.5,328.3 280.5,330.5"/><polygon class="cl" fill-opacity="0.07" points="290.5,306.5 292.5,309.3 294.5,312.5 296.5,315.8 298.5,319.1 300.5,322.5 302.5,325.8 302.5,327.8 300.5,327 298.5,326.2 296.5,325.4 294.5,324.8 292.5,324.1 290.5,323.9"/><polygon class="cl" fill-opacity="0.08" points="310.5,331.8 312.5,331.2 314.5,330.6 316.5,329.6 318.5,328.2 320.5,327 322.5,326.9 322.5,345 320.5,345 318.5,343.5 316.5,341.3 314.5,338.7 312.5,335.7 310.5,332.7"/><polygon class="cl" fill-opacity="0.12" points="320.5,327 322.5,326.9 324.5,326.8 326.5,326.8 328.5,326.7 330.5,326.8 332.5,327.1 332.5,345.6 330.5,345.2 328.5,345 326.5,345 324.5,345 322.5,345 320.5,345"/><polygon class="cl" fill-opacity="0.13" points="330.5,326.8 332.5,327.1 334.5,327.5 336.5,328 338.5,328.4 340.5,328.9 342.5,329.5 342.5,348.4 340.5,347.7 338.5,347.1 336.5,346.6 334.5,346.1 332.5,345.6 330.5,345.2"/><polygon class="cl" fill-opacity="0.13" points="340.5,328.9 342.5,329.5 344.5,329.9 346.5,329.8 348.5,328.4 350.5,326.7 352.5,324.9 352.5,352.2 350.5,351.5 348.5,350.6 346.5,349.4 344.5,348.9 342.5,348.4 340.5,347.7"/><polygon class="cl" fill-opacity="0.14" points="350.5,326.7 352.5,324.9 354.5,324.4 356.5,324.4 358.5,324.3 360.5,324.2 362.5,324.1 362.5,343 360.5,343.2 358.5,345.2 356.5,347.9 354.5,350.5 352.5,352.2 350.5,351.5"/><polygon class="cl" fill-opacity="0.13" points="360.5,324.2 362.5,324.1 364.5,324.6 366.5,325.5 368.5,326.6 370.5,327.5 372.5,328.5 372.5,347.1 370.5,346.2 368.5,345.4 366.5,344.4 364.5,343.5 362.5,343 360.5,343.2"/><polygon class="cl" fill-opacity="0.13" points="370.5,327.5 372.5,328.5 374.5,329.5 376.5,330.2 378.5,330.5 380.5,330.5 382.5,330.6 382.5,349 380.5,349 378.5,349 376.5,348.8 374.5,348.1 372.5,347.1 370.5,346.2"/><polygon class="cl" fill-opacity="0.12" points="380.5,330.5 382.5,330.6 384.5,330.6 386.5,330.7 388.5,330.6 390.5,330.4 392.5,330.1 392.5,348.3 390.5,348.6 388.5,348.9 386.5,349 384.5,349 382.5,349 380.5,349"/><polygon class="cl" fill-opacity="0.12" points="390.5,330.4 392.5,330.1 394.5,329.8 396.5,329.4 398.5,328.8 400.5,327.6 402.5,326.4 402.5,344.4 400.5,345.6 398.5,346.8 396.5,347.5 394.5,347.9 392.5,348.3 390.5,348.6"/><polygon class="cl" fill-opacity="0.12" points="400.5,327.6 402.5,326.4 404.5,325.2 406.5,323.7 408.5,322.2 410.5,320.6 412.5,318.8 412.5,338.2 410.5,339.7 408.5,340.9 406.5,342.1 404.5,343.2 402.5,344.4 400.5,345.6"/><polygon class="cl" fill-opacity="0.14" points="410.5,320.6 412.5,318.8 414.5,316.9 416.5,315.6 418.5,315.7 420.5,316 422.5,316.4 422.5,335.3 420.5,335.3 418.5,335.3 416.5,335.5 414.5,336.7 412.5,338.2 410.5,339.7"/><polygon class="cl" fill-opacity="0.12" points="420.5,316 422.5,316.4 424.5,316.9 426.5,317.5 428.5,318.3 430.5,319 432.5,319.9 432.5,340.2 430.5,338.3 428.5,336.6 426.5,335.8 424.5,335.5 422.5,335.3 420.5,335.3"/><polygon class="cl" fill-opacity="0.12" points="430.5,319 432.5,319.9 434.5,320.8 436.5,322.1 438.5,323.5 440.5,324.7 442.5,326 442.5,350.1 440.5,348.4 438.5,346.6 436.5,344.3 434.5,342.1 432.5,340.2 430.5,338.3"/><polygon class="cl" fill-opacity="0.12" points="440.5,324.7 442.5,326 444.5,327.4 446.5,328.9 448.5,330.2 450.5,331.2 452.5,332 452.5,358.5 450.5,357.3 448.5,355.8 446.5,354 444.5,352 442.5,350.1 440.5,348.4"/><polygon class="cl" fill-opacity="0.13" points="450.5,331.2 452.5,332 454.5,332.7 456.5,333.2 458.5,333.7 460.5,334.1 462.5,334.4 462.5,362.9 460.5,362.2 458.5,361.4 456.5,360.5 454.5,359.6 452.5,358.5 450.5,357.3"/><polygon class="cl" fill-opacity="0.13" points="460.5,334.1 462.5,334.4 464.5,334.8 466.5,335 468.5,335.1 470.5,334.9 472.5,334.7 472.5,365.2 470.5,365 468.5,364.8 466.5,364.3 464.5,363.7 462.5,362.9 460.5,362.2"/><polygon class="cl" fill-opacity="0.14" points="470.5,334.9 472.5,334.7 474.5,334.3 476.5,333.9 478.5,333.4 480.5,332.9 482.5,332.2 482.5,364.7 480.5,365 478.5,365.1 476.5,365.2 474.5,365.2 472.5,365.2 470.5,365"/><polygon class="cl" fill-opacity="0.15" points="480.5,332.9 482.5,332.2 484.5,331.3 486.5,330.4 488.5,329.6 490.5,328.9 492.5,328.3 492.5,362.3 490.5,362.9 488.5,363.3 486.5,363.7 484.5,364.2 482.5,364.7 480.5,365"/><polygon class="cl" fill-opacity="0.15" points="490.5,328.9 492.5,328.3 494.5,327.8 496.5,327.4 498.5,327.1 500.5,327 502.5,327 502.5,361 500.5,361 498.5,361.1 496.5,361.4 494.5,361.8 492.5,362.3 490.5,362.9"/><polygon class="cl" fill-opacity="0.15" points="500.5,327 502.5,327 504.5,327 506.5,327 508.5,327 510.5,327 512.5,327.1 512.5,361.1 510.5,361 508.5,361 506.5,361 504.5,361 502.5,361 500.5,361"/><polygon class="cl" fill-opacity="0.15" points="510.5,327 512.5,327.1 514.5,327.3 516.5,327.6 518.5,327.8 520.5,328.1 522.5,328.3 522.5,362.3 520.5,362.1 518.5,361.8 516.5,361.6 514.5,361.3 512.5,361.1 510.5,361"/><polygon class="cl" fill-opacity="0.15" points="520.5,328.1 522.5,328.3 524.5,328.6 526.5,328.8 528.5,329 530.5,329 532.5,329 532.5,363 530.5,363 528.5,363 526.5,362.8 524.5,362.6 522.5,362.3 520.5,362.1"/><polygon class="cl" fill-opacity="0.15" points="530.5,329 532.5,329 534.5,329 536.5,329 538.5,329 540.5,329 542.5,329 542.5,363 540.5,363 538.5,363 536.5,363 534.5,363 532.5,363 530.5,363"/><polygon class="cl" fill-opacity="0.15" points="540.5,329 542.5,329 544.5,329 546.5,329 548.5,329 550.5,329 552.5,329 552.5,363 550.5,363 548.5,363 546.5,363 544.5,363 542.5,363 540.5,363"/><polygon class="cl" fill-opacity="0.15" points="550.5,329 552.5,329 554.5,329 556.5,329 558.5,329 560.5,329 562.5,329.1 562.5,363.1 560.5,363 558.5,363 556.5,363 554.5,363 552.5,363 550.5,363"/><polygon class="cl" fill-opacity="0.15" points="560.5,329 562.5,329.1 564.5,329.2 566.5,329.5 568.5,329.8 570.5,330.1 572.5,330.6 572.5,364.6 570.5,364.1 568.5,363.8 566.5,363.5 564.5,363.2 562.5,363.1 560.5,363"/><polygon class="cl" fill-opacity="0.16" points="570.5,330.1 572.5,330.6 574.5,331.3 576.5,332.8 578.5,334.6 580.5,336.6 582.5,338.9 582.5,365.8 580.5,365.4 578.5,365.3 576.5,365.4 574.5,365.3 572.5,364.6 570.5,364.1"/><polygon class="cl" fill-opacity="0.19" points="580.5,336.6 582.5,338.9 584.5,341.6 586.5,344.6 588.5,347.7 590.5,351 592.5,354.4 592.5,372.4 590.5,370.4 588.5,369 586.5,367.7 584.5,366.6 582.5,365.8 580.5,365.4"/><polygon class="cl" fill-opacity="0.20" points="590.5,351 592.5,354.4 594.5,357.7 596.5,361.1 598.5,364.8 600.5,368.5 602.5,372.3 602.5,388.8 600.5,385.3 598.5,381.9 596.5,378.5 594.5,375.3 592.5,372.4 590.5,370.4"/><polygon class="cl" fill-opacity="0.18" points="600.5,368.5 602.5,372.3 604.5,376.4 606.5,381.7 608.5,389.2 610.5,396 612.5,397 612.5,406 610.5,406.8 608.5,402.3 606.5,397.1 604.5,392.6 602.5,388.8 600.5,385.3"/><polygon class="cl" fill-opacity="0.07" points="174.5,432.3 176.5,433.2 178.5,433.8 180.5,434.8 182.5,435.7 184.5,436.3 186.5,436.2 186.5,450.2 184.5,447.7 182.5,444.4 180.5,440.8 178.5,437.2 176.5,433.8 174.5,432.3"/><polygon class="cl" fill-opacity="0.15" points="184.5,436.3 186.5,436.2 188.5,436 190.5,436 192.5,436 194.5,435.9 196.5,434.9 196.5,447.5 194.5,449.3 192.5,450.2 190.5,451 188.5,451.8 186.5,450.2 184.5,447.7"/><polygon class="cl" fill-opacity="0.06" points="194.5,435.9 196.5,434.9 198.5,433.4 200.5,432.5 202.5,431.7 204.5,430.8 206.5,428.5 206.5,429.4 204.5,430.8 202.5,434.7 200.5,439.5 198.5,444.4 196.5,447.5 194.5,449.3"/><polygon class="cl" fill-opacity="0.07" points="204.5,430.8 206.5,428.5 208.5,423.8 210.5,418.9 212.5,413.9 214.5,408.8 216.5,403.7 216.5,423 214.5,424.4 212.5,425.8 210.5,427.2 208.5,428.4 206.5,429.4 204.5,430.8"/><polygon class="cl" fill-opacity="0.16" points="214.5,408.8 216.5,403.7 218.5,399.3 220.5,397 222.5,395 224.5,393 226.5,391.3 226.5,414.4 224.5,415.8 222.5,417.6 220.5,419.3 218.5,421.4 216.5,423 214.5,424.4"/><polygon class="cl" fill-opacity="0.18" points="224.5,393 226.5,391.3 228.5,390.7 230.5,390.7 232.5,390.8 234.5,391.3 236.5,392.6 236.5,416.2 234.5,415.2 232.5,414.6 230.5,414.2 228.5,414 226.5,414.4 224.5,415.8"/><polygon class="cl" fill-opacity="0.17" points="234.5,391.3 236.5,392.6 238.5,394.1 240.5,395.8 242.5,397.8 244.5,399.9 246.5,402 246.5,424 244.5,422.3 242.5,420.5 240.5,418.8 238.5,417.4 236.5,416.2 234.5,415.2"/><polygon class="cl" fill-opacity="0.15" points="244.5,399.9 246.5,402 248.5,403.6 250.5,405.1 252.5,406.5 254.5,407.6 256.5,408.2 256.5,428.7 254.5,428.4 252.5,427.6 250.5,426.6 248.5,425.4 246.5,424 244.5,422.3"/><polygon class="cl" fill-opacity="0.14" points="254.5,407.6 256.5,408.2 258.5,408.5 260.5,408.7 262.5,408.3 264.5,407.8 266.5,406.4 266.5,426.9 264.5,428.2 262.5,428.5 260.5,428.7 258.5,428.8 256.5,428.7 254.5,428.4"/><polygon class="cl" fill-opacity="0.14" points="264.5,407.8 266.5,406.4 268.5,404.3 270.5,402.6 272.5,401.3 274.5,400.1 276.5,398.9 276.5,420.2 274.5,421.2 272.5,422.3 270.5,423.5 268.5,425 266.5,426.9 264.5,428.2"/><polygon class="cl" fill-opacity="0.14" points="274.5,400.1 276.5,398.9 278.5,397.7 280.5,396.1 282.5,394.5 284.5,393.3 286.5,393.2 286.5,415.1 284.5,415.2 282.5,416.2 280.5,417.7 278.5,419.1 276.5,420.2 274.5,421.2"/><polygon class="cl" fill-opacity="0.13" points="284.5,393.3 286.5,393.2 288.5,395.1 290.5,397.8 292.5,400.3 294.5,403 296.5,405.7 296.5,426.2 294.5,423.7 292.5,421.4 290.5,419.1 288.5,416.7 286.5,415.1 284.5,415.2"/><polygon class="cl" fill-opacity="0.10" points="294.5,403 296.5,405.7 298.5,407.9 300.5,409.1 302.5,409.3 304.5,409.5 306.5,409.6 306.5,429.6 304.5,429.5 302.5,429.3 300.5,429.1 298.5,428.2 296.5,426.2 294.5,423.7"/><polygon class="cl" fill-opacity="0.10" points="304.5,409.5 306.5,409.6 308.5,409.8 310.5,410.1 312.5,410.5 314.5,411.1 316.5,411.8 316.5,431.8 314.5,431.1 312.5,430.5 310.5,430.1 308.5,429.8 306.5,429.6 304.5,429.5"/><polygon class="cl" fill-opacity="0.10" points="314.5,411.1 316.5,411.8 318.5,412.5 320.5,413.2 322.5,414 324.5,414.8 326.5,415.7 326.5,435.7 324.5,434.8 322.5,434 320.5,433.2 318.5,432.5 316.5,431.8 314.5,431.1"/><polygon class="cl" fill-opacity="0.10" points="324.5,414.8 326.5,415.7 328.5,416.5 330.5,417.2 332.5,417.8 334.5,418.4 336.5,418.9 336.5,438.9 334.5,438.4 332.5,437.8 330.5,437.2 328.5,436.5 326.5,435.7 324.5,434.8"/><polygon class="cl" fill-opacity="0.10" points="334.5,418.4 336.5,418.9 338.5,418.9 340.5,416.3 342.5,413.3 344.5,410.1 346.5,409 346.5,429 344.5,430.1 342.5,433.3 340.5,436.3 338.5,438.9 336.5,438.9 334.5,438.4"/><polygon class="cl" fill-opacity="0.10" points="344.5,410.1 346.5,409 348.5,409 350.5,409 352.5,409 354.5,409 356.5,409.5 356.5,429.5 354.5,429 352.5,429 350.5,429 348.5,429 346.5,429 344.5,430.1"/><polygon class="cl" fill-opacity="0.10" points="354.5,409 356.5,409.5 358.5,410.4 360.5,411.6 362.5,413 364.5,414.4 366.5,416.2 366.5,436.2 364.5,434.4 362.5,433 360.5,431.6 358.5,430.4 356.5,429.5 354.5,429"/><polygon class="cl" fill-opacity="0.10" points="364.5,414.4 366.5,416.2 368.5,418.5 370.5,420.7 372.5,422.4 374.5,424.1 376.5,425.6 376.5,445.6 374.5,444.1 372.5,442.4 370.5,440.7 368.5,438.5 366.5,436.2 364.5,434.4"/><polygon class="cl" fill-opacity="0.10" points="374.5,424.1 376.5,425.6 378.5,426.7 380.5,427 382.5,426.8 384.5,426.3 386.5,425.6 386.5,445.6 384.5,446.3 382.5,446.8 380.5,447 378.5,446.7 376.5,445.6 374.5,444.1"/><polygon class="cl" fill-opacity="0.10" points="384.5,426.3 386.5,425.6 388.5,424.7 390.5,422.8 392.5,420 394.5,417.4 396.5,414.5 396.5,434.5 394.5,437.4 392.5,440 390.5,442.8 388.5,444.7 386.5,445.6 384.5,446.3"/><polygon class="cl" fill-opacity="0.10" points="394.5,417.4 396.5,414.5 398.5,411.7 400.5,409.5 402.5,407.6 404.5,405.8 406.5,404.5 406.5,424.5 404.5,425.8 402.5,427.6 400.5,429.5 398.5,431.7 396.5,434.5 394.5,437.4"/><polygon class="cl" fill-opacity="0.10" points="404.5,405.8 406.5,404.5 408.5,403.9 410.5,403.5 412.5,403.2 414.5,403 416.5,403 416.5,423 414.5,423 412.5,423.2 410.5,423.5 408.5,423.9 406.5,424.5 404.5,425.8"/><polygon class="cl" fill-opacity="0.10" points="414.5,403 416.5,403 418.5,403.4 420.5,404.3 422.5,405.3 424.5,406.2 426.5,407.4 426.5,427.4 424.5,426.2 422.5,425.3 420.5,424.3 418.5,423.4 416.5,423 414.5,423"/><polygon class="cl" fill-opacity="0.11" points="424.5,406.2 426.5,407.4 428.5,408.8 430.5,410.1 432.5,411.3 434.5,412.2 436.5,413 436.5,433.2 434.5,432.2 432.5,431.3 430.5,430.1 428.5,428.8 426.5,427.4 424.5,426.2"/><polygon class="cl" fill-opacity="0.13" points="434.5,412.2 436.5,413 438.5,413.7 440.5,414.8 442.5,416.6 444.5,419 446.5,421.7 446.5,445.6 444.5,442.2 442.5,439.1 440.5,436.5 438.5,434.7 436.5,433.2 434.5,432.2"/><polygon class="cl" fill-opacity="0.14" points="444.5,419 446.5,421.7 448.5,424.4 450.5,426.9 452.5,429.8 454.5,432.8 456.5,434.9 456.5,462.1 454.5,459.4 452.5,455.9 450.5,452.3 448.5,449.1 446.5,445.6 444.5,442.2"/><polygon class="cl" fill-opacity="0.15" points="454.5,432.8 456.5,434.9 458.5,435.3 460.5,434.1 462.5,432.2 464.5,430 466.5,428.1 466.5,457.9 464.5,459.3 462.5,461 460.5,462.4 458.5,463 456.5,462.1 454.5,459.4"/><polygon class="cl" fill-opacity="0.16" points="464.5,430 466.5,428.1 468.5,426.2 470.5,424.3 472.5,422.4 474.5,420.6 476.5,419.1 476.5,451.6 474.5,452.6 472.5,453.8 470.5,455.1 468.5,456.6 466.5,457.9 464.5,459.3"/><polygon class="cl" fill-opacity="0.16" points="474.5,420.6 476.5,419.1 478.5,417.9 480.5,416.7 482.5,415.6 484.5,414.3 486.5,412.7 486.5,447.7 484.5,448.8 482.5,449.6 480.5,450.2 478.5,450.8 476.5,451.6 474.5,452.6"/><polygon class="cl" fill-opacity="0.17" points="484.5,414.3 486.5,412.7 488.5,410.9 490.5,409.3 492.5,408.3 494.5,408 496.5,408.4 496.5,444.4 494.5,444 492.5,444.3 490.5,445.3 488.5,446.5 486.5,447.7 484.5,448.8"/><polygon class="cl" fill-opacity="0.17" points="494.5,408 496.5,408.4 498.5,409.1 500.5,410 502.5,410.7 504.5,411.1 506.5,411.3 506.5,447.3 504.5,447.1 502.5,446.7 500.5,446 498.5,445.1 496.5,444.4 494.5,444"/><polygon class="cl" fill-opacity="0.17" points="504.5,411.1 506.5,411.3 508.5,411.5 510.5,411.7 512.5,411.9 514.5,412 516.5,412 516.5,448 514.5,448 512.5,447.9 510.5,447.7 508.5,447.5 506.5,447.3 504.5,447.1"/><polygon class="cl" fill-opacity="0.17" points="514.5,412 516.5,412 518.5,412 520.5,412 522.5,412 524.5,412 526.5,412 526.5,448 524.5,448 522.5,448 520.5,448 518.5,448 516.5,448 514.5,448"/><polygon class="cl" fill-opacity="0.17" points="524.5,412 526.5,412 528.5,412.5 530.5,413.4 532.5,414.5 534.5,415.5 536.5,416.1 536.5,452.1 534.5,451.5 532.5,450.5 530.5,449.4 528.5,448.5 526.5,448 524.5,448"/><polygon class="cl" fill-opacity="0.17" points="534.5,415.5 536.5,416.1 538.5,416.7 540.5,417.2 542.5,417.6 544.5,417.9 546.5,418 546.5,454 544.5,453.9 542.5,453.6 540.5,453.2 538.5,452.7 536.5,452.1 534.5,451.5"/><polygon class="cl" fill-opacity="0.17" points="544.5,417.9 546.5,418 548.5,416.9 550.5,415 552.5,412.8 554.5,410.9 556.5,409.8 556.5,445.8 554.5,446.9 552.5,448.8 550.5,451 548.5,452.9 546.5,454 544.5,453.9"/><polygon class="cl" fill-opacity="0.17" points="554.5,410.9 556.5,409.8 558.5,409.1 560.5,408.5 562.5,408.1 564.5,408 566.5,408.6 566.5,444.6 564.5,444 562.5,444.1 560.5,444.5 558.5,445.1 556.5,445.8 554.5,446.9"/><polygon class="cl" fill-opacity="0.17" points="564.5,408 566.5,408.6 568.5,409.7 570.5,411 572.5,412.3 574.5,413.7 576.5,415.3 576.5,451.3 574.5,449.7 572.5,448.3 570.5,447 568.5,445.7 566.5,444.6 564.5,444"/><polygon class="cl" fill-opacity="0.17" points="574.5,413.7 576.5,415.3 578.5,416.9 580.5,418.5 582.5,420.2 584.5,421.8 586.5,423.5 586.5,455.6 584.5,455.1 582.5,454.7 580.5,454.2 578.5,452.9 576.5,451.3 574.5,449.7"/><polygon class="cl" fill-opacity="0.18" points="584.5,421.8 586.5,423.5 588.5,425.1 590.5,427 592.5,429 594.5,431.2 596.5,433.4 596.5,459.5 594.5,458.5 592.5,457.5 590.5,456.7 588.5,456 586.5,455.6 584.5,455.1"/><polygon class="cl" fill-opacity="0.18" points="594.5,431.2 596.5,433.4 598.5,435.5 600.5,437.5 602.5,439 604.5,440.3 606.5,441.8 606.5,463 604.5,462.4 602.5,461.9 600.5,461.2 598.5,460.4 596.5,459.5 594.5,458.5"/><polygon class="cl" fill-opacity="0.18" points="604.5,440.3 606.5,441.8 608.5,443.6 610.5,446.5 612.5,455.1 614.5,465.1 616.5,467 616.5,474 614.5,476.6 612.5,472.6 610.5,466.1 608.5,464.1 606.5,463 604.5,462.4"/></g>
<g filter="url(#b1)"><polygon class="h3" points="96,131 98,131 100,131 102,130.6 104,129.6 106,128.4 108,127.4 110,127 112,127.4 114,128.4 116,129.6 118,130.6 120,131 122,131 124,131 126,131 128,131 130,131 132,130.7 134,130.1 136,129.3 138,128.5 140,128 142,127.7 144,127.4 146,127.2 148,127.1 150,127 152,127.2 154,127.7 156,128.3 158,128.9 160,129.4 162,129.8 164,130.1 166,130.4 168,130.7 170,131 172,131.4 174,132 176,132.5 178,132.8 180,133 182,132.9 184,132.6 186,132.4 188,132.1 190,132 192,132 194,132 196,132 198,132 200,132 202,132.2 204,132.7 206,133.4 208,134.2 210,135 212,135.8 214,136.7 216,137.7 218,139 220,141.3 222,144.2 224,146 226,146.5 228,146.9 230,147 232,146.4 234,144.9 236,143 238,140.3 240,137 242,133.4 244,131 246,130.5 248,130.2 250,130 252,129.7 254,129.3 256,128.9 258,128.5 260,128.1 262,127.7 264,127.6 266,127.4 268,127.2 270,127 272,126.4 274,125.6 276,124.6 278,123.7 280,123 282,122.5 284,122 286,121.5 288,121.2 290,121.1 292,121.3 294,121.6 296,122.1 298,122.7 300,123.2 302,123.6 304,124 306,124.5 308,124.9 310,125.4 312,126 314,126.7 316,127.3 318,127.6 320,126 322,122.6 324,119.7 326,118 328,116.5 330,115.9 332,116 334,116.2 336,116.5 338,116.9 340,118 342,120.1 344,122.6 346,124.9 348,127 350,129.2 352,131.3 354,133 356,134.4 358,135.5 360,136 362,135.7 364,135 366,134 368,132.4 370,130 372,127 374,121.7 376,117 378,115 380,113.6 382,113 384,114 386,116.3 388,119 390,122.5 392,126.9 394,131 396,134.7 398,138.2 400,141 402,143 404,144.7 406,145.9 408,146.7 410,147.4 412,147.9 414,148.6 416,149.7 418,150.9 420,151.4 422,150.6 424,148.5 426,146 428,142.9 430,139.1 432,136 434,133.6 436,131.6 438,130 440,128.7 442,127.7 444,127 446,126.5 448,126.1 450,126 452,126.3 454,126.9 456,127.7 458,128.5 460,129 462,129.3 464,129.6 466,129.8 468,129.9 470,130 472,130 474,130 476,130 478,130 480,130 482,130.2 484,130.7 486,131.3 488,131.8 490,132 492,131.5 494,130.5 496,129.5 498,129 500,129.6 502,131.2 504,133.2 506,135 508,136.8 510,138.9 512,140.9 514,142.4 516,143 518,142.6 520,141.5 522,140.2 524,139 526,137.9 528,136.6 530,135.3 532,134.1 534,133.1 536,132.3 538,131.5 540,130.8 542,130.1 544,129.4 546,129 548,128.6 550,128.5 552,128.5 554,128.6 556,128.9 558,129.2 560,129.6 562,130 564,130.4 566,130.8 568,131.2 570,131.6 572,132.2 574,132.7 576,133.3 578,134 580,134.7 582,135.6 584,136.6 586,137.8 588,139.1 588,145.7 586,144.5 584,143.4 582,142.5 580,141.7 578,141.1 576,140.5 574,139.9 572,139.4 570,138.8 568,138.4 566,138 564,137.6 562,137.2 560,136.8 558,136.4 556,136.1 554,135.8 552,135.7 550,135.7 548,135.8 546,136.2 544,136.6 542,137.2 540,137.8 538,138.4 536,139.1 534,139.8 532,140.7 530,141.8 528,143 526,144.2 524,145.3 522,146.4 520,147.7 518,148.7 516,149.1 514,148.5 512,147 510,145 508,142.9 506,141 504,139.2 502,137.2 500,135.6 498,135 496,135.5 494,136.5 492,137.5 490,138 488,137.8 486,137.3 484,136.7 482,136.2 480,136 478,136 476,136 474,136 472,136 470,136 468,135.9 466,135.8 464,135.6 462,135.3 460,135 458,134.5 456,133.7 454,132.9 452,132.3 450,132 448,132.1 446,132.5 444,133 442,133.7 440,134.7 438,136 436,137.6 434,139.6 432,142 430,145.1 428,148.9 426,152 424,154.7 422,157 420,158 418,157.4 416,156.2 414,155 412,154.2 410,153.6 408,152.9 406,152 404,150.7 402,149 400,147 398,144.2 396,140.7 394,137 392,132.9 390,128.5 388,125 386,122.3 384,120 382,119 380,119.6 378,121 376,123 374,127.7 372,133 370,136 368,138.4 366,140 364,141 362,141.7 360,142 358,141.5 356,140.4 354,139 352,137.4 350,135.3 348,133.1 346,131 344,128.7 342,126.2 340,124.1 338,123 336,122.6 334,122.3 332,122.1 330,122 328,122.6 326,124.2 324,126 322,128.9 320,132.3 318,134 316,133.8 314,133.2 312,132.6 310,132 308,131.6 306,131.2 304,130.8 302,130.4 300,130 298,129.5 296,129 294,128.5 292,128.1 290,128 288,128.1 286,128.4 284,128.9 282,129.5 280,130 278,130.7 276,131.6 274,132.6 272,133.5 270,134 268,134.3 266,134.5 264,134.7 262,134.8 260,135 258,135.2 256,135.4 254,135.6 252,135.8 250,136 248,136.2 246,136.5 244,137 242,139.4 240,143 238,146.3 236,149.1 234,150.9 232,152.4 230,153 228,152.9 226,152.5 224,152 222,150.2 220,147.3 218,145 216,143.7 214,142.7 212,141.8 210,141 208,140.2 206,139.4 204,138.7 202,138.2 200,138 198,138 196,138 194,138 192,138 190,138 188,138.1 186,138.4 184,138.6 182,138.9 180,139 178,138.8 176,138.5 174,138 172,137.4 170,137 168,136.7 166,136.4 164,136.1 162,135.8 160,135.4 158,134.9 156,134.3 154,133.7 152,133.2 150,133 148,133.1 146,133.2 144,133.4 142,133.7 140,134 138,134.5 136,135.3 134,136.1 132,136.7 130,137 128,137 126,137 124,137 122,137 120,137 118,136.6 116,135.6 114,134.4 112,133.4 110,133 108,133.4 106,134.4 104,135.6 102,136.6 100,137 98,137 96,137"/><polygon class="h3" points="96,210 98,210 100,210 102,210 104,210 106,210 108,210 110,210 112,209.5 114,208.4 116,207 118,204.9 120,202.3 122,201 124,201.2 126,201.8 128,202.4 130,203 132,203.4 134,203.8 136,204.1 138,204.5 140,205 142,205.5 144,206.1 146,206.9 148,208 150,211.3 152,215 154,216.9 156,218.4 158,219 160,218.8 162,218.3 164,217.6 166,217 168,216.4 170,215.7 172,215 174,214.4 176,214 178,213.7 180,213.5 182,213.3 184,213 186,211.9 188,210.1 190,209 192,208.6 194,208.3 196,208.1 198,208 200,208.6 202,209.8 204,211 206,212.1 208,213.2 210,214.2 212,215 214,215.6 216,216 218,216.5 220,217 222,217.8 224,218.6 226,219 228,217.3 230,213.7 232,210 234,206.3 236,202.7 238,201 240,201.5 242,202.7 244,204 246,205.4 248,207.1 250,208.4 252,209 254,208.8 256,208.3 258,207.7 260,207 262,206.3 264,205.4 266,204.3 268,203.1 270,201.8 272,200.1 274,198.3 276,196.5 278,194.7 280,193.4 282,193 284,193.3 286,194 288,195 290,196 292,197.2 294,198.7 296,200.1 298,201 300,201.5 302,201.9 304,202 306,201.7 308,200.9 310,199.9 312,199 314,198.1 316,197.1 318,196.3 320,196 322,196.4 324,197.4 326,198.7 328,200 330,201.4 332,202.9 334,204.5 336,206 338,207.3 340,208.6 342,209.8 344,211 346,212.5 348,214.1 350,215.5 352,216 354,214.8 356,212.4 358,210 360,208.1 362,206.2 364,205 366,204.2 368,203.6 370,203.2 372,203 374,203.1 376,203.3 378,203.6 380,204 382,204.5 384,205.1 386,205.9 388,207 390,208.8 392,211.3 394,214 396,216.8 398,219.7 400,222 402,223.8 404,225 406,225.4 408,222 410,216.9 412,213.9 414,211.3 416,209 418,206.8 420,204.8 422,203.1 424,201.4 426,199.8 428,198.6 430,198.2 432,199.8 434,203 436,206 438,208.3 440,210.4 442,211.4 444,212 446,212.5 448,213 450,213.7 452,214.6 454,215.4 456,216 458,216.5 460,216.9 462,217.3 464,217.7 466,218 468,218.3 470,218.7 472,218.9 474,219 476,217.7 478,215.1 480,213 482,211.6 484,210.5 486,210 488,210.4 490,211.2 492,212 494,212.6 496,213.3 498,213.8 500,214 502,213.8 504,213.3 506,212.7 508,212.2 510,212 512,212.4 514,213.4 516,214.6 518,215.6 520,216 522,215.4 524,213.9 526,212.1 528,210.6 530,210 532,210.4 534,211.4 536,212.6 538,213.6 540,214 542,213.6 544,212.6 546,211.4 548,210.4 550,210 552,210.2 554,210.7 556,211.3 558,211.8 560,212 562,211.8 564,211.3 566,210.7 568,210.2 570,210 572,210.2 574,210.9 576,211.8 578,212.9 580,214 582,215.2 584,216.6 586,218.2 588,220 590,222 592,224.4 594,227.3 596,230.6 598,234.2 600,238 602,242.2 604,246.9 604,252.9 602,248.2 600,244 598,240.2 596,236.6 594,233.3 592,230.4 590,228 588,226 586,224.2 584,222.6 582,221.4 580,220.4 578,219.5 576,218.6 574,217.7 572,217.1 570,216.9 568,217.1 566,217.6 564,218.2 562,218.7 560,218.9 558,218.7 556,218.2 554,217.7 552,217.2 550,217 548,217.4 546,218.4 544,219.6 542,220.6 540,221 538,220.6 536,219.6 534,218.5 532,217.5 530,217.1 528,217.7 526,219.2 524,220.9 522,222.4 520,223 518,222.6 516,221.6 514,220.4 512,219.4 510,219 508,219.2 506,219.6 504,220.2 502,220.7 500,220.9 498,220.7 496,220.2 494,219.5 492,218.9 490,218.1 488,217.1 486,216.5 484,216.9 482,217.9 480,219.1 478,221.1 476,223.7 474,225 472,224.9 470,224.7 468,224.3 466,224 464,223.7 462,223.3 460,222.9 458,222.5 456,222 454,221.4 452,220.6 450,219.7 448,219 446,218.5 444,218 442,217.4 440,216.4 438,214.3 436,212 434,209.2 432,206.3 430,205 428,205.5 426,206.7 424,208.3 422,210 420,212 418,214.3 416,216.8 414,219.4 412,222.3 410,225.6 408,230 406,232.9 404,231.9 402,230 400,228 398,225.7 396,222.8 394,220 392,217.3 390,214.8 388,213 386,211.9 384,211.1 382,210.5 380,210 378,209.6 376,209.3 374,209.1 372,209 370,209.2 368,209.6 366,210.2 364,211 362,212.2 360,214.3 358,216.7 356,219.5 354,222.4 352,223.2 350,222.2 348,220.5 346,218.5 344,217 342,215.8 340,214.6 338,213.3 336,212 334,210.5 332,208.9 330,207.4 328,206 326,204.7 324,203.4 322,202.4 320,202 318,202.3 316,203.1 314,204.1 312,205 310,205.9 308,206.9 306,207.7 304,208 302,207.9 300,207.5 298,207 296,206.1 294,204.7 292,203.2 290,202 288,201 286,200 284,199.3 282,199 280,199.7 278,201.3 276,203 274,204.7 272,206.5 270,208 268,209.2 266,210.4 264,211.4 262,212.3 260,213 258,213.7 256,214.3 254,214.8 252,215 250,214.4 248,213.1 246,211.4 244,210 242,208.7 240,207.5 238,207 236,208.7 234,212.3 232,216 230,219.7 228,223.3 226,225 224,224.6 222,223.8 220,223 218,222.5 216,222 214,221.6 212,221 210,220.2 208,219.2 206,218.1 204,217 202,215.8 200,214.6 198,214 196,214.1 194,214.3 192,214.6 190,215 188,216.1 186,217.9 184,219 182,219.3 180,219.5 178,219.7 176,220 174,220.4 172,221 170,221.7 168,222.4 166,223 164,223.6 162,224.3 160,224.8 158,225 156,224.4 154,222.9 152,221 150,217.3 148,214 146,212.9 144,212.1 142,211.5 140,211 138,210.5 136,210.1 134,209.8 132,209.4 130,209 128,208.4 126,207.8 124,207.2 122,207 120,208.3 118,210.9 116,213 114,214.4 112,215.5 110,216 108,216 106,216 104,216 102,216 100,216 98,216 96,216"/><polygon class="h3" points="96,333 98,333 100,333 102,333.1 104,333.4 106,333.6 108,333.9 110,334 112,333.9 114,333.6 116,333.4 118,333.1 120,333 122,333.2 124,333.8 126,334.5 128,335.3 130,336 132,336.7 134,337.5 136,338.2 138,338.8 140,339 142,339 144,339 146,339 148,339 150,340.6 152,343.4 154,345 156,344.4 158,342.8 160,341 162,338.1 164,334.7 166,333 168,333.2 170,333.5 172,334 174,334.8 176,336 178,337.1 180,338 182,338.6 184,339.1 186,339.6 188,339.9 190,340 192,339.9 194,339.6 196,339.4 198,339.1 200,339 202,339.1 204,339.4 206,339.6 208,339.9 210,340 212,340 214,340 216,340 218,340 220,340 222,339.3 224,337.7 226,335.9 228,333.8 230,331.6 232,329.6 234,327.4 236,325.4 238,324.4 240,324.5 242,324.9 244,325.3 246,326.1 248,327.4 250,328.6 252,329.2 254,329.2 256,329.1 258,328.8 260,328.5 262,327.8 264,326.6 266,325.3 268,324.3 270,323.9 272,324.1 274,324.5 276,324.8 278,325 280,324 282,321.9 284,320 286,318.7 288,317.5 290,317 292,317.5 294,318.7 296,320 298,321.3 300,322.6 302,324 304,325.3 306,326.7 308,327.9 310,329 312,330 314,331 316,331.7 318,332 320,332 322,332 324,332 326,332 328,332 330,332.1 332,332.5 334,333 336,333.5 338,334 340,334.6 342,335.2 344,335.8 346,336 348,335.7 350,334.7 352,333.5 354,332.9 356,332.1 358,331.1 360,330.3 362,330 364,330.3 366,331.1 368,332.1 370,333 372,333.9 374,334.9 376,335.7 378,336 380,336 382,336 384,336 386,336 388,335.9 390,335.7 392,335.3 394,335 396,334.6 398,334.1 400,333.5 402,333 404,332.5 406,332.1 408,331.6 410,330.9 412,330 414,328.9 416,328 418,327.5 420,327.3 422,327 424,326.9 426,326.9 428,327.2 430,327.6 432,328.3 434,329 436,329.9 438,331.2 440,332.6 442,334 444,335.5 446,337.2 448,338.7 450,340 452,341 454,341.9 456,342.7 458,343.4 460,344 462,344.5 464,345 466,345.4 468,345.7 470,345.7 472,345.6 474,345.4 476,345.1 478,344.8 480,344.4 482,344 484,343.3 486,342.6 488,341.9 490,341.4 492,340.8 494,340.3 496,339.8 498,339.4 500,339.3 502,339.3 504,339.3 506,339.3 508,339.3 510,339.3 512,339.3 514,339.5 516,339.7 518,340 520,340.2 522,340.4 524,340.7 526,340.9 528,341.1 530,341.2 532,341.2 534,341.2 536,341.2 538,341.2 540,341.2 542,341.2 544,341.2 546,341.3 548,341.3 550,341.3 552,341.3 554,341.3 556,341.3 558,341.3 560,341.3 562,341.4 564,341.6 566,341.8 568,342.1 570,342.4 572,343 574,343.8 576,344.8 578,345.9 580,347 582,348.4 584,350.2 586,352.3 588,354.6 590,357 592,359.7 594,362.7 596,366 598,369.4 600,373 602,376.6 604,380.4 606,385 608,390.9 610,398 610,404 608,396.9 606,391 604,386.4 602,382.6 600,379 598,375.4 596,372 594,368.7 592,365.7 590,363 588,360.6 586,358.3 584,356.2 582,354.4 580,353.2 578,352.3 576,351.5 574,350.8 572,350.3 570,350.1 568,349.8 566,349.5 564,349.3 562,349.2 560,349.1 558,349.2 556,349.2 554,349.2 552,349.2 550,349.2 548,349.2 546,349.2 544,349.2 542,349.2 540,349.3 538,349.3 536,349.3 534,349.3 532,349.3 530,349.3 528,349.2 526,349 524,348.8 522,348.5 520,348.3 518,348 516,347.8 514,347.5 512,347.3 510,347.2 508,347.2 506,347.2 504,347.2 502,347.2 500,347.2 498,347.3 496,347.6 494,348.1 492,348.6 490,349.1 488,349.7 486,350.4 484,351.1 482,351.7 480,352.1 478,352.3 476,352.6 474,352.8 472,352.9 470,352.9 468,352.8 466,352.4 464,351.9 462,351.3 460,350.8 458,350.1 456,349.4 454,348.6 452,347.6 450,346.6 448,345.2 446,343.5 444,341.8 442,340.2 440,338.7 438,337.2 436,335.9 434,335 432,334.3 430,333.6 428,333.2 426,333 424,333.1 422,333.3 420,333.6 418,334 416,334.6 414,335.4 412,336.3 410,337 408,337.6 406,338.1 404,338.5 402,339 400,339.5 398,340.1 396,340.6 394,341 392,341.3 390,341.7 388,341.9 386,342 384,342 382,342 380,342 378,342 376,341.7 374,340.9 372,339.9 370,339 368,338.1 366,337.1 364,336.3 362,336 360,336.3 358,337.1 356,338.2 354,339.2 352,340.3 350,341.1 348,341.7 346,342 344,341.8 342,341.2 340,340.6 338,340 336,339.5 334,339 332,338.5 330,338.1 328,338 326,338 324,338 322,338 320,338 318,338 316,337.7 314,337 312,336 310,335 308,333.9 306,332.7 304,331.3 302,330 300,328.6 298,327.3 296,326 294,324.7 292,323.5 290,323 288,323.5 286,324.7 284,326 282,327.9 280,330 278,331 276,330.8 274,330.5 272,330.2 270,330 268,330.5 266,331.6 264,333 262,334.2 260,335 258,335.4 256,335.7 254,335.9 252,336 250,335.5 248,334.2 246,332.9 244,332 242,331.5 240,331.2 238,331 236,331.9 234,333.9 232,336 230,338 228,340.1 226,342 224,343.7 222,345.3 220,346 218,346 216,346 214,346 212,346 210,346 208,345.9 206,345.6 204,345.4 202,345.1 200,345 198,345.1 196,345.4 194,345.7 192,346 190,346.1 188,346 186,345.7 184,345.2 182,344.6 180,344 178,343.1 176,342 174,340.8 172,340 170,339.5 168,339.2 166,339 164,340.7 162,344.1 160,347 158,348.8 156,350.4 154,351 152,349.4 150,346.6 148,345 146,345 144,345 142,345 140,345 138,344.8 136,344.2 134,343.5 132,342.7 130,342 128,341.3 126,340.5 124,339.8 122,339.2 120,339 118,339.1 116,339.4 114,339.6 112,339.9 110,340 108,339.9 106,339.6 104,339.4 102,339.1 100,339 98,339 96,339"/><polygon class="h3" points="96,420 98,420 100,420 102,420.1 104,420.3 106,420.5 108,420.8 110,421 112,421.2 114,421.4 116,421.5 118,421.7 120,422 122,422.4 124,423 126,423.7 128,424.4 130,425 132,425.6 134,426.3 136,426.8 138,427 140,426.6 142,425.6 144,424.2 146,423 148,421.6 150,419.9 152,418.6 154,418 156,418.4 158,419.4 160,420.8 162,422 164,423.2 166,424.5 168,425.8 170,427 172,428.1 174,429.1 176,430 178,431 180,432.2 182,433.5 184,434.6 186,435 188,435 190,435 192,435 194,435 196,434.3 198,432.7 200,431 202,429.6 204,428.2 206,426.6 208,425 210,423.2 212,421.1 214,418.7 216,416.6 218,414.5 220,412.4 222,410.5 224,408.8 226,407.2 228,406.5 230,406.6 232,406.9 234,407.5 236,408.3 238,409.4 240,410.6 242,412.1 244,413.9 246,415.5 248,416.9 250,418 252,419 254,419.7 256,420 258,419.9 260,419.7 262,419.4 264,419 266,417.8 268,415.8 270,414 272,412.6 274,411.4 276,410.2 278,409 280,407.5 282,405.9 284,404.5 286,404 288,404.9 290,406.9 292,409 294,411 296,413.2 298,415 300,416 302,416.3 304,416.5 306,416.6 308,416.8 310,417 312,417.4 314,417.9 316,418.6 318,419.3 320,420 322,420.8 324,421.6 326,422.5 328,423.3 330,424 332,424.7 334,425.3 336,425.8 338,426 340,424.1 342,421 344,417.9 346,416 348,416 350,416 352,416 354,416 356,416.3 358,417.1 360,418.3 362,419.6 364,421 366,422.7 368,424.9 370,427.1 372,429 374,430.6 376,432.3 378,433.5 380,434 382,433.8 384,433.4 386,432.8 388,432 390,430.4 392,427.7 394,425 396,422.3 398,419.4 400,417 402,415 404,413.2 406,411.8 408,411 410,410.6 412,410.3 414,410.1 416,410 418,410.3 420,411 422,412 424,413 426,414.1 428,415.4 430,416.8 432,418 434,419 436,419.8 438,420.8 440,422 442,423.9 444,426.4 446,429.3 448,432.2 450,435 452,438 454,441.3 456,443.9 458,445 460,444.4 462,442.8 464,440.8 466,439 468,437.3 470,435.6 472,433.9 474,432.2 476,430.9 478,429.7 480,428.7 482,427.8 484,426.7 486,425.4 488,423.8 490,422.2 492,421.1 494,420.6 496,420.9 498,421.6 500,422.4 502,423.2 504,423.6 506,423.9 508,424.1 510,424.3 512,424.5 514,424.6 516,424.6 518,424.6 520,424.6 522,424.6 524,424.6 526,424.6 528,425 530,425.8 532,426.8 534,427.9 536,428.6 538,429.2 540,429.7 542,430.2 544,430.5 546,430.7 548,430 550,428.2 552,426.1 554,424 556,422.7 558,422 560,421.4 562,420.9 564,420.8 566,421.2 568,422.2 570,423.5 572,424.8 574,426.2 576,427.8 578,429.4 580,430.9 582,432.2 584,433.4 586,434.5 588,435.7 590,437 592,438.5 594,440.1 596,441.9 598,443.5 600,445 602,446.1 604,447 606,447.9 608,449.1 610,451 612,457.1 614,467 614,473 612,463.2 610,457.2 608,455.5 606,454.3 604,453.6 602,452.8 600,451.8 598,450.4 596,448.8 594,447.2 592,445.6 590,444.2 588,443 586,441.9 584,440.8 582,439.7 580,438.6 578,437.1 576,435.5 574,434 572,432.6 570,431.3 568,430 566,429 564,428.7 562,428.8 560,429.3 558,430 556,430.7 554,432 552,434.1 550,436.3 548,438 546,438.8 544,438.7 542,438.3 540,437.9 538,437.3 536,436.8 534,436 532,434.9 530,433.9 528,433 526,432.7 524,432.6 522,432.6 520,432.6 518,432.6 516,432.6 514,432.5 512,432.4 510,432.2 508,432 506,431.7 504,431.5 502,431 500,430.2 498,429.3 496,428.6 494,428.4 492,428.8 490,429.9 488,431.4 486,432.9 484,434.1 482,435 480,435.9 478,436.8 476,437.8 474,439.1 472,440.6 470,442.2 468,443.9 466,445.4 464,447.2 462,449 460,450.5 458,451.1 456,450 454,447.4 452,444.1 450,441.1 448,438.4 446,435.4 444,432.5 442,430 440,428.1 438,426.9 436,425.9 434,425 432,424 430,422.8 428,421.4 426,420.1 424,419 422,418 420,417 418,416.3 416,416 414,416.1 412,416.3 410,416.6 408,417 406,417.8 404,419.2 402,421 400,423 398,425.4 396,428.3 394,431 392,433.7 390,436.4 388,438 386,438.8 384,439.4 382,439.8 380,440 378,439.5 376,438.3 374,436.6 372,435 370,433.1 368,430.9 366,428.7 364,427 362,425.6 360,424.3 358,423.1 356,422.3 354,422 352,422 350,422 348,422 346,422 344,423.9 342,427 340,430.1 338,432 336,431.8 334,431.3 332,430.7 330,430 328,429.3 326,428.5 324,427.6 322,426.8 320,426 318,425.3 316,424.6 314,423.9 312,423.4 310,423 308,422.8 306,422.6 304,422.5 302,422.3 300,422 298,421 296,419.2 294,417 292,415 290,412.9 288,410.9 286,410 284,410.5 282,411.9 280,413.5 278,415 276,416.2 274,417.4 272,418.6 270,420 268,421.8 266,423.8 264,425 262,425.4 260,425.7 258,425.9 256,426 254,425.7 252,425 250,424 248,423 246,421.7 244,420.1 242,418.4 240,417 238,415.8 236,414.7 234,414 232,413.5 230,413.1 228,413 226,413.7 224,415.3 222,417 220,418.8 218,420.9 216,423 214,425.1 212,427.1 210,429.2 208,431 206,432.6 204,434.2 202,435.6 200,437 198,438.7 196,440.3 194,441.1 192,441.2 190,441.2 188,441.3 186,441.4 184,440.8 182,439.5 180,438.2 178,437 176,436 174,435.1 172,434.1 170,433 168,431.8 166,430.5 164,429.2 162,428 160,426.8 158,425.4 156,424.4 154,424 152,424.6 150,425.9 148,427.6 146,429 144,430.2 142,431.6 140,432.6 138,433 136,432.8 134,432.3 132,431.6 130,431 128,430.4 126,429.7 124,429 122,428.4 120,428 118,427.7 116,427.5 114,427.4 112,427.2 110,427 108,426.8 106,426.5 104,426.3 102,426.1 100,426 98,426 96,426"/><rect class="h3" fill-opacity=".58" x="103" y="574.5" width="28" height="6"/><rect class="h3" fill-opacity=".3" x="252" y="575.5" width="44" height="6"/><rect class="h3" fill-opacity=".4" x="398" y="571" width="16" height="9"/></g>
<g filter="url(#b0)"><polyline class="c" stroke-opacity="0.55" stroke-width="3.0" points="96,134 98,134 100,134 102,133.6 104,132.6 106,131.4 108,130.4"/><polyline class="c" stroke-opacity="0.55" stroke-width="3.0" points="108,130.4 110,130 112,130.4 114,131.4 116,132.6 118,133.6 120,134"/><polyline class="c" stroke-opacity="0.55" stroke-width="3.0" points="120,134 122,134 124,134 126,134 128,134 130,134 132,133.7"/><polyline class="c" stroke-opacity="0.55" stroke-width="3.0" points="132,133.7 134,133.1 136,132.3 138,131.5 140,131 142,130.7 144,130.4"/><polyline class="c" stroke-opacity="0.55" stroke-width="3.0" points="144,130.4 146,130.2 148,130.1 150,130 152,130.2 154,130.7 156,131.3"/><polyline class="c" stroke-opacity="0.55" stroke-width="3.0" points="156,131.3 158,131.9 160,132.4 162,132.8 164,133.1 166,133.4 168,133.7"/><polyline class="c" stroke-opacity="0.55" stroke-width="3.0" points="168,133.7 170,134 172,134.4 174,135 176,135.5 178,135.8 180,136"/><polyline class="c" stroke-opacity="0.55" stroke-width="3.0" points="180,136 182,135.9 184,135.6 186,135.4 188,135.1 190,135 192,135"/><polyline class="c" stroke-opacity="0.55" stroke-width="3.0" points="192,135 194,135 196,135 198,135 200,135 202,135.2 204,135.7"/><polyline class="c" stroke-opacity="0.55" stroke-width="3.0" points="204,135.7 206,136.4 208,137.2 210,138 212,138.8 214,139.7 216,140.7"/><polyline class="c" stroke-opacity="0.55" stroke-width="3.0" points="216,140.7 218,142 220,144.3 222,147.2 224,149 226,149.5 228,149.9"/><polyline class="c" stroke-opacity="0.55" stroke-width="3.0" points="228,149.9 230,150 232,149.4 234,147.9 236,146 238,143.3 240,140"/><polyline class="c" stroke-opacity="0.55" stroke-width="3.0" points="240,140 242,136.4 244,134 246,133.5 248,133.2 250,133 252,132.8"/><polyline class="c" stroke-opacity="0.55" stroke-width="3.0" points="252,132.8 254,132.6 256,132.4 258,132.2 260,132 262,131.8 264,131.7"/><polyline class="c" stroke-opacity="0.55" stroke-width="3.0" points="264,131.7 266,131.5 268,131.3 270,131 272,130.5 274,129.6 276,128.6"/><polyline class="c" stroke-opacity="0.55" stroke-width="3.0" points="276,128.6 278,127.7 280,127 282,126.5 284,125.9 286,125.4 288,125.1"/><polyline class="c" stroke-opacity="0.55" stroke-width="3.0" points="288,125.1 290,125 292,125.1 294,125.5 296,126 298,126.5 300,127"/><polyline class="c" stroke-opacity="0.55" stroke-width="3.0" points="300,127 302,127.4 304,127.8 306,128.2 308,128.6 310,129 312,129.6"/><polyline class="c" stroke-opacity="0.55" stroke-width="3.0" points="312,129.6 314,130.2 316,130.8 318,131 320,129.3 322,125.9 324,123"/><polyline class="c" stroke-opacity="0.55" stroke-width="3.0" points="324,123 326,121.2 328,119.6 330,119 332,119.1 334,119.3 336,119.6"/><polyline class="c" stroke-opacity="0.55" stroke-width="3.0" points="336,119.6 338,120 340,121.1 342,123.2 344,125.7 346,128 348,130.1"/><polyline class="c" stroke-opacity="0.55" stroke-width="3.0" points="348,130.1 350,132.3 352,134.4 354,136 356,137.4 358,138.5 360,139"/><polyline class="c" stroke-opacity="0.55" stroke-width="3.0" points="360,139 362,138.7 364,138 366,137 368,135.4 370,133 372,130"/><polyline class="c" stroke-opacity="0.55" stroke-width="3.0" points="372,130 374,124.7 376,120 378,118 380,116.6 382,116 384,117"/><polyline class="c" stroke-opacity="0.55" stroke-width="3.0" points="384,117 386,119.3 388,122 390,125.5 392,129.9 394,134 396,137.7"/><polyline class="c" stroke-opacity="0.30" stroke-width="2.4" points="396,137.7 398,141.2 400,144 402,146 404,147.7 406,149 408,149.9"/><polyline class="c" stroke-opacity="0.32" stroke-width="2.4" points="408,149.9 410,150.6 412,151.2 414,152 416,153.2 418,154.4 420,155"/><polyline class="c" stroke-opacity="0.53" stroke-width="2.8" points="420,155 422,154 424,151.7 426,149 428,145.9 430,142.1 432,139"/><polyline class="c" stroke-opacity="0.53" stroke-width="2.8" points="432,139 434,136.6 436,134.6 438,133 440,131.7 442,130.7 444,130"/><polyline class="c" stroke-opacity="0.53" stroke-width="2.8" points="444,130 446,129.5 448,129.1 450,129 452,129.3 454,129.9 456,130.7"/><polyline class="c" stroke-opacity="0.53" stroke-width="2.8" points="456,130.7 458,131.5 460,132 462,132.3 464,132.6 466,132.8 468,132.9"/><polyline class="c" stroke-opacity="0.53" stroke-width="2.8" points="468,132.9 470,133 472,133 474,133 476,133 478,133 480,133"/><polyline class="c" stroke-opacity="0.53" stroke-width="2.8" points="480,133 482,133.2 484,133.7 486,134.3 488,134.8 490,135 492,134.5"/><polyline class="c" stroke-opacity="0.53" stroke-width="2.8" points="492,134.5 494,133.5 496,132.5 498,132 500,132.6 502,134.2 504,136.2"/><polyline class="c" stroke-opacity="0.29" stroke-width="3.0" points="504,136.2 506,138 508,139.8 510,141.9 512,143.9 514,145.4 516,146"/><polyline class="c" stroke-opacity="0.07" stroke-width="3.0" points="516,146 518,145.6 520,144.5 522,143.2 524,142 526,140.9 528,139.7"/><polyline class="c" stroke-opacity="0.09" stroke-width="6.0" points="540,134.2 542,133.6 544,133 546,132.6 548,132.2 550,132 552,132"/><polyline class="c" stroke-opacity="0.02" stroke-width="5.8" points="552,132 554,132.1 556,132.4 558,132.7 560,133 562,133.4 564,133.8"/><polyline class="c" stroke-opacity="0.41" stroke-width="2.1" points="96,213 98,213 100,213 102,213 104,213 106,213 108,213"/><polyline class="c" stroke-opacity="0.42" stroke-width="2.1" points="108,213 110,213 112,212.5 114,211.4 116,210 118,207.9 120,205.3"/><polyline class="c" stroke-opacity="0.42" stroke-width="2.2" points="120,205.3 122,204 124,204.2 126,204.8 128,205.4 130,206 132,206.4"/><polyline class="c" stroke-opacity="0.43" stroke-width="2.2" points="132,206.4 134,206.8 136,207.1 138,207.5 140,208 142,208.5 144,209.1"/><polyline class="c" stroke-opacity="0.43" stroke-width="2.2" points="144,209.1 146,209.9 148,211 150,214.3 152,218 154,219.9 156,221.4"/><polyline class="c" stroke-opacity="0.43" stroke-width="2.2" points="156,221.4 158,222 160,221.8 162,221.3 164,220.6 166,220 168,219.4"/><polyline class="c" stroke-opacity="0.44" stroke-width="2.2" points="168,219.4 170,218.7 172,218 174,217.4 176,217 178,216.7 180,216.5"/><polyline class="c" stroke-opacity="0.44" stroke-width="2.2" points="180,216.5 182,216.3 184,216 186,214.9 188,213.1 190,212 192,211.6"/><polyline class="c" stroke-opacity="0.44" stroke-width="2.2" points="192,211.6 194,211.3 196,211.1 198,211 200,211.6 202,212.8 204,214"/><polyline class="c" stroke-opacity="0.45" stroke-width="2.2" points="204,214 206,215.1 208,216.2 210,217.2 212,218 214,218.6 216,219"/><polyline class="c" stroke-opacity="0.45" stroke-width="2.2" points="216,219 218,219.5 220,220 222,220.8 224,221.6 226,222 228,220.3"/><polyline class="c" stroke-opacity="0.45" stroke-width="2.2" points="228,220.3 230,216.7 232,213 234,209.3 236,205.7 238,204 240,204.5"/><polyline class="c" stroke-opacity="0.45" stroke-width="2.2" points="240,204.5 242,205.7 244,207 246,208.4 248,210.1 250,211.4 252,212"/><polyline class="c" stroke-opacity="0.48" stroke-width="2.3" points="252,212 254,211.8 256,211.3 258,210.7 260,210 262,209.3 264,208.4"/><polyline class="c" stroke-opacity="0.53" stroke-width="2.4" points="264,208.4 266,207.4 268,206.2 270,205 272,203.5 274,201.7 276,200"/><polyline class="c" stroke-opacity="0.52" stroke-width="2.4" points="276,200 278,198.3 280,196.7 282,196 284,196.3 286,197 288,198"/><polyline class="c" stroke-opacity="0.52" stroke-width="2.4" points="288,198 290,199 292,200.2 294,201.7 296,203.1 298,204 300,204.5"/><polyline class="c" stroke-opacity="0.51" stroke-width="2.3" points="300,204.5 302,204.9 304,205 306,204.7 308,203.9 310,202.9 312,202"/><polyline class="c" stroke-opacity="0.51" stroke-width="2.3" points="312,202 314,201.1 316,200.1 318,199.3 320,199 322,199.4 324,200.4"/><polyline class="c" stroke-opacity="0.51" stroke-width="2.3" points="324,200.4 326,201.7 328,203 330,204.4 332,205.9 334,207.5 336,209"/><polyline class="c" stroke-opacity="0.50" stroke-width="2.3" points="336,209 338,210.3 340,211.6 342,212.8 344,214 346,215.5 348,217.1"/><polyline class="c" stroke-opacity="0.50" stroke-width="2.3" points="348,217.1 350,218.5 352,219 354,217.8 356,215.4 358,213 360,211.1"/><polyline class="c" stroke-opacity="0.50" stroke-width="2.3" points="360,211.1 362,209.2 364,208 366,207.2 368,206.6 370,206.2 372,206"/><polyline class="c" stroke-opacity="0.50" stroke-width="2.3" points="372,206 374,206.1 376,206.3 378,206.6 380,207 382,207.5 384,208.1"/><polyline class="c" stroke-opacity="0.50" stroke-width="2.3" points="384,208.1 386,208.9 388,210 390,211.8 392,214.3 394,217 396,219.8"/><polyline class="c" stroke-opacity="0.50" stroke-width="2.4" points="396,219.8 398,222.7 400,225 402,226.8 404,228.4 406,229 408,225.8"/><polyline class="c" stroke-opacity="0.50" stroke-width="2.4" points="408,225.8 410,221 412,218 414,215.4 416,213 418,210.8 420,208.7"/><polyline class="c" stroke-opacity="0.50" stroke-width="2.4" points="420,208.7 422,207 424,205.3 426,203.7 428,202.5 430,202 432,203.3"/><polyline class="c" stroke-opacity="0.50" stroke-width="2.4" points="432,203.3 434,206.2 436,209 438,211.3 440,213.4 442,214.4 444,215"/><polyline class="c" stroke-opacity="0.46" stroke-width="2.6" points="444,215 446,215.5 448,216 450,216.7 452,217.6 454,218.4 456,219"/><polyline class="c" stroke-opacity="0.40" stroke-width="2.8" points="456,219 458,219.5 460,219.9 462,220.3 464,220.7 466,221 468,221.3"/><polyline class="c" stroke-opacity="0.34" stroke-width="3.1" points="468,221.3 470,221.7 472,221.9 474,222 476,220.7 478,218.1 480,216"/><polyline class="c" stroke-opacity="0.23" stroke-width="3.4" points="480,216 482,214.6 484,213.5 486,213 488,213.4 490,214.2 492,215"/><polyline class="c" stroke-opacity="0.06" stroke-width="3.9" points="492,215 494,215.6 496,216.3 498,216.8 500,217 502,216.8 504,216.3"/><polyline class="c" stroke-opacity="0.20" stroke-width="5.3" points="504,216.3 506,215.7 508,215.2 510,215 512,215.4 514,216.4 516,217.6"/><polyline class="c" stroke-opacity="0.29" stroke-width="6.0" points="516,217.6 518,218.6 520,219 522,218.4 524,216.9 526,215.1 528,213.6"/><polyline class="c" stroke-opacity="0.05" stroke-width="4.2" points="528,213.6 530,213 532,213.4 534,214.4 536,215.6 538,216.6 540,217"/><polyline class="c" stroke-opacity="0.01" stroke-width="4.0" points="540,217 542,216.6 544,215.6 546,214.4 548,213.4 550,213 552,213.2"/><polyline class="c" stroke-opacity="0.55" stroke-width="3.0" points="96,336 98,336 100,336 102,336.1 104,336.4 106,336.6 108,336.9"/><polyline class="c" stroke-opacity="0.54" stroke-width="2.9" points="108,336.9 110,337 112,336.9 114,336.6 116,336.4 118,336.1 120,336"/><polyline class="c" stroke-opacity="0.53" stroke-width="2.8" points="120,336 122,336.2 124,336.8 126,337.5 128,338.3 130,339 132,339.7"/><polyline class="c" stroke-opacity="0.38" stroke-width="2.4" points="132,339.7 134,340.5 136,341.2 138,341.8 140,342 142,342 144,342"/><polyline class="c" stroke-opacity="0.38" stroke-width="2.4" points="144,342 146,342 148,342 150,343.6 152,346.4 154,348 156,347.4"/><polyline class="c" stroke-opacity="0.38" stroke-width="2.4" points="156,347.4 158,345.8 160,344 162,341.1 164,337.7 166,336 168,336.2"/><polyline class="c" stroke-opacity="0.38" stroke-width="2.4" points="168,336.2 170,336.5 172,337 174,337.8 176,339 178,340.1 180,341"/><polyline class="c" stroke-opacity="0.38" stroke-width="2.4" points="180,341 182,341.6 184,342.1 186,342.6 188,342.9 190,343 192,342.9"/><polyline class="c" stroke-opacity="0.38" stroke-width="2.4" points="192,342.9 194,342.6 196,342.4 198,342.1 200,342 202,342.1 204,342.4"/><polyline class="c" stroke-opacity="0.38" stroke-width="2.4" points="204,342.4 206,342.6 208,342.9 210,343 212,343 214,343 216,343"/><polyline class="c" stroke-opacity="0.46" stroke-width="2.7" points="216,343 218,343 220,343 222,342.3 224,340.7 226,339 228,337.1"/><polyline class="c" stroke-opacity="0.56" stroke-width="3.2" points="228,337.1 230,335 232,333 234,330.9 236,328.9 238,328 240,328.2"/><polyline class="c" stroke-opacity="0.56" stroke-width="3.2" points="240,328.2 242,328.5 244,329 246,329.9 248,331.2 250,332.5 252,333"/><polyline class="c" stroke-opacity="0.56" stroke-width="3.2" points="252,333 254,332.9 256,332.7 258,332.4 260,332 262,331.2 264,330"/><polyline class="c" stroke-opacity="0.56" stroke-width="3.2" points="264,330 266,328.6 268,327.5 270,327 272,327.2 274,327.5 276,327.8"/><polyline class="c" stroke-opacity="0.56" stroke-width="3.2" points="276,327.8 278,328 280,327 282,324.9 284,323 286,321.7 288,320.5"/><polyline class="c" stroke-opacity="0.56" stroke-width="3.2" points="288,320.5 290,320 292,320.5 294,321.7 296,323 298,324.3 300,325.6"/><polyline class="c" stroke-opacity="0.50" stroke-width="2.9" points="300,325.6 302,327 304,328.3 306,329.7 308,330.9 310,332 312,333"/><polyline class="c" stroke-opacity="0.46" stroke-width="2.7" points="312,333 314,334 316,334.7 318,335 320,335 322,335 324,335"/><polyline class="c" stroke-opacity="0.48" stroke-width="2.9" points="324,335 326,335 328,335 330,335.1 332,335.5 334,336 336,336.5"/><polyline class="c" stroke-opacity="0.50" stroke-width="3.0" points="336,336.5 338,337 340,337.6 342,338.2 344,338.8 346,339 348,338.7"/><polyline class="c" stroke-opacity="0.51" stroke-width="3.1" points="348,338.7 350,337.9 352,336.9 354,336 356,335.1 358,334.1 360,333.3"/><polyline class="c" stroke-opacity="0.52" stroke-width="3.1" points="360,333.3 362,333 364,333.3 366,334.1 368,335.1 370,336 372,336.9"/><polyline class="c" stroke-opacity="0.53" stroke-width="3.2" points="372,336.9 374,337.9 376,338.7 378,339 380,339 382,339 384,339"/><polyline class="c" stroke-opacity="0.53" stroke-width="3.2" points="384,339 386,339 388,338.9 390,338.7 392,338.3 394,338 396,337.6"/><polyline class="c" stroke-opacity="0.54" stroke-width="3.2" points="396,337.6 398,337.1 400,336.5 402,336 404,335.5 406,335.1 408,334.6"/><polyline class="c" stroke-opacity="0.55" stroke-width="3.3" points="408,334.6 410,334 412,333.3 414,332.4 416,331.6 418,331 420,330.6"/><polyline class="c" stroke-opacity="0.55" stroke-width="3.3" points="420,330.6 422,330.3 424,330.1 426,330 428,330.2 430,330.6 432,331.3"/><polyline class="c" stroke-opacity="0.56" stroke-width="3.4" points="432,331.3 434,332 436,332.9 438,334.2 440,335.6 442,337 444,338.5"/><polyline class="c" stroke-opacity="0.22" stroke-width="7.8" points="444,338.5 446,340.2 448,341.7 450,343 452,344 454,344.9 456,345.7"/><polyline class="c" stroke-opacity="0.05" stroke-width="10.1" points="456,345.7 458,346.4 460,347 462,347.5 464,348.1 466,348.6 468,348.9"/><polyline class="c" stroke-opacity="0.05" stroke-width="10.3" points="468,348.9 470,349 472,348.9 474,348.8 476,348.6 478,348.3 480,348"/><polyline class="c" stroke-opacity="0.05" stroke-width="10.5" points="480,348 482,347.6 484,347 486,346.3 488,345.6 490,345 492,344.5"/><polyline class="c" stroke-opacity="0.05" stroke-width="10.7" points="492,344.5 494,344 496,343.5 498,343.1 500,343 502,343 504,343"/><polyline class="c" stroke-opacity="0.05" stroke-width="10.9" points="504,343 506,343 508,343 510,343 512,343.1 514,343.3 516,343.5"/><polyline class="c" stroke-opacity="0.05" stroke-width="11.1" points="516,343.5 518,343.8 520,344 522,344.2 524,344.5 526,344.7 528,344.9"/><polyline class="c" stroke-opacity="0.05" stroke-width="11.3" points="528,344.9 530,345 532,345 534,345 536,345 538,345 540,345"/><polyline class="c" stroke-opacity="0.05" stroke-width="11.5" points="540,345 542,345 544,345 546,345 548,345 550,345 552,345"/><polyline class="c" stroke-opacity="0.05" stroke-width="11.6" points="552,345 554,345 556,345 558,345 560,345 562,345.1 564,345.2"/><polyline class="c" stroke-opacity="0.05" stroke-width="11.8" points="564,345.2 566,345.4 568,345.7 570,346 572,346.4 574,347.1 576,347.9"/><polyline class="c" stroke-opacity="0.05" stroke-width="11.2" points="576,347.9 578,348.9 580,350 582,351.4 584,353.2 586,355.3 588,357.6"/><polyline class="c" stroke-opacity="0.04" stroke-width="6.8" points="588,357.6 590,360 592,362.7 594,365.7 596,369 598,372.4 600,376"/><polyline class="c" stroke-opacity="0.57" stroke-width="3.4" points="96,423 98,423 100,423 102,423.1 104,423.3 106,423.5 108,423.8"/><polyline class="c" stroke-opacity="0.57" stroke-width="3.4" points="108,423.8 110,424 112,424.2 114,424.4 116,424.5 118,424.7 120,425"/><polyline class="c" stroke-opacity="0.57" stroke-width="3.5" points="120,425 122,425.4 124,426 126,426.7 128,427.4 130,428 132,428.6"/><polyline class="c" stroke-opacity="0.57" stroke-width="3.5" points="132,428.6 134,429.3 136,429.8 138,430 140,429.6 142,428.6 144,427.2"/><polyline class="c" stroke-opacity="0.57" stroke-width="3.5" points="144,427.2 146,426 148,424.6 150,422.9 152,421.6 154,421 156,421.4"/><polyline class="c" stroke-opacity="0.57" stroke-width="3.5" points="156,421.4 158,422.4 160,423.8 162,425 164,426.2 166,427.5 168,428.8"/><polyline class="c" stroke-opacity="0.57" stroke-width="3.6" points="168,428.8 170,430 172,431.1 174,432.1 176,433 178,434 180,435.2"/><polyline class="c" stroke-opacity="0.57" stroke-width="3.6" points="180,435.2 182,436.5 184,437.6 186,438 188,438 190,438 192,438"/><polyline class="c" stroke-opacity="0.57" stroke-width="3.6" points="192,438 194,438 196,437.3 198,435.7 200,434 202,432.6 204,431.2"/><polyline class="c" stroke-opacity="0.57" stroke-width="3.6" points="204,431.2 206,429.6 208,428 210,426.2 212,424.1 214,422.1 216,420"/><polyline class="c" stroke-opacity="0.57" stroke-width="3.6" points="216,420 218,417.9 220,415.8 222,414 224,412.3 226,410.7 228,410"/><polyline class="c" stroke-opacity="0.57" stroke-width="3.7" points="228,410 230,410.1 232,410.5 234,411 236,411.7 238,412.8 240,414"/><polyline class="c" stroke-opacity="0.57" stroke-width="3.7" points="240,414 242,415.4 244,417.1 246,418.7 248,420 250,421 252,422"/><polyline class="c" stroke-opacity="0.57" stroke-width="3.7" points="252,422 254,422.7 256,423 258,422.9 260,422.7 262,422.4 264,422"/><polyline class="c" stroke-opacity="0.57" stroke-width="3.7" points="264,422 266,420.8 268,418.8 270,417 272,415.6 274,414.4 276,413.2"/><polyline class="c" stroke-opacity="0.57" stroke-width="3.8" points="276,413.2 278,412 280,410.5 282,408.9 284,407.5 286,407 288,407.9"/><polyline class="c" stroke-opacity="0.57" stroke-width="3.8" points="288,407.9 290,409.9 292,412 294,414 296,416.2 298,418 300,419"/><polyline class="c" stroke-opacity="0.57" stroke-width="3.8" points="300,419 302,419.3 304,419.5 306,419.6 308,419.8 310,420 312,420.4"/><polyline class="c" stroke-opacity="0.57" stroke-width="3.9" points="312,420.4 314,420.9 316,421.6 318,422.3 320,423 322,423.8 324,424.6"/><polyline class="c" stroke-opacity="0.57" stroke-width="3.9" points="324,424.6 326,425.5 328,426.3 330,427 332,427.7 334,428.3 336,428.8"/><polyline class="c" stroke-opacity="0.57" stroke-width="4.0" points="336,428.8 338,429 340,427.1 342,424 344,420.9 346,419 348,419"/><polyline class="c" stroke-opacity="0.57" stroke-width="4.0" points="348,419 350,419 352,419 354,419 356,419.3 358,420.1 360,421.3"/><polyline class="c" stroke-opacity="0.57" stroke-width="4.1" points="360,421.3 362,422.6 364,424 366,425.7 368,427.9 370,430.1 372,432"/><polyline class="c" stroke-opacity="0.57" stroke-width="4.1" points="372,432 374,433.6 376,435.3 378,436.5 380,437 382,436.8 384,436.4"/><polyline class="c" stroke-opacity="0.57" stroke-width="4.2" points="384,436.4 386,435.8 388,435 390,433.4 392,430.7 394,428 396,425.3"/><polyline class="c" stroke-opacity="0.57" stroke-width="4.2" points="396,425.3 398,422.4 400,420 402,418 404,416.2 406,414.8 408,414"/><polyline class="c" stroke-opacity="0.57" stroke-width="4.3" points="408,414 410,413.6 412,413.3 414,413.1 416,413 418,413.3 420,414"/><polyline class="c" stroke-opacity="0.57" stroke-width="4.3" points="420,414 422,415 424,416 426,417.1 428,418.4 430,419.8 432,421"/><polyline class="c" stroke-opacity="0.57" stroke-width="4.4" points="432,421 434,422 436,422.8 438,423.8 440,425 442,426.9 444,429.4"/><polyline class="c" stroke-opacity="0.37" stroke-width="7.2" points="444,429.4 446,432.3 448,435.2 450,438 452,441 454,444.3 456,446.9"/><polyline class="c" stroke-opacity="0.17" stroke-width="10.2" points="456,446.9 458,448 460,447.4 462,445.8 464,443.8 466,442 468,440.4"/><polyline class="c" stroke-opacity="0.15" stroke-width="11.1" points="468,440.4 470,438.7 472,437 474,435.4 476,434 478,432.9 480,431.9"/><polyline class="c" stroke-opacity="0.13" stroke-width="11.9" points="480,431.9 482,431 484,430 486,428.7 488,427.1 490,425.6 492,424.5"/><polyline class="c" stroke-opacity="0.12" stroke-width="12.8" points="492,424.5 494,424 496,424.3 498,424.9 500,425.8 502,426.5 504,427"/><polyline class="c" stroke-opacity="0.11" stroke-width="13.0" points="504,427 506,427.3 508,427.5 510,427.7 512,427.9 514,428 516,428"/><polyline class="c" stroke-opacity="0.11" stroke-width="13.0" points="516,428 518,428 520,428 522,428 524,428 526,428 528,428.3"/><polyline class="c" stroke-opacity="0.11" stroke-width="13.0" points="528,428.3 530,429.2 532,430.2 534,431.2 536,432 538,432.5 540,433.1"/><polyline class="c" stroke-opacity="0.11" stroke-width="13.0" points="540,433.1 542,433.6 544,433.9 546,434 548,433.3 550,431.5 552,429.4"/><polyline class="c" stroke-opacity="0.11" stroke-width="13.0" points="552,429.4 554,427.3 556,426 558,425.3 560,424.6 562,424.2 564,424"/><polyline class="c" stroke-opacity="0.11" stroke-width="13.0" points="564,424 566,424.4 568,425.4 570,426.7 572,428 574,429.4 576,430.9"/><polyline class="c" stroke-opacity="0.12" stroke-width="12.6" points="576,430.9 578,432.5 580,434 582,435.3 584,436.4 586,437.5 588,438.7"/><polyline class="c" stroke-opacity="0.14" stroke-width="10.2" points="588,438.7 590,440 592,441.5 594,443.1 596,444.9 598,446.5 600,448"/><polyline class="c" stroke-opacity="0.18" stroke-width="8.0" points="600,448 602,449.1 604,450 606,450.9 608,452.1 610,454 612,460.1"/><polyline class="c" stroke-opacity="0.14" stroke-width="6.2" points="612,460.1 614,470"/><polyline class="c" stroke-opacity=".5" stroke-width="2" points="392,124 398,134 404,141 412,146 420,150"/><polyline class="c" stroke-opacity=".42" stroke-width="2.2" points="458,132 468,137 478,141 490,145 500,150"/><polyline class="c" stroke-opacity=".55" stroke-width="2.6" points="404,342 412,338 418,334 424,336 432,344 440,352 444,358"/><polyline class="c" stroke-opacity=".55" stroke-width="2.6" points="442,340 452,334 462,330 470,334 476,342"/><polyline class="c" stroke-opacity=".5" stroke-width="2.6" points="444,352 456,353 468,351 480,348"/><polyline class="c" stroke-opacity=".5" stroke-width="2" points="402,232 410,222 418,212 426,205 432,203"/><polyline class="c" stroke-opacity=".42" stroke-width="1.4" points="472,262 480,240 486,227 492,238 498,258"/><polyline class="c" stroke-opacity=".52" stroke-width="1.6" points="485,313 493,302"/></g>

</g>
<path d="M272 213.5H334" stroke="#1852ff" stroke-width="1" stroke-opacity=".7" stroke-dasharray="5 2 3 1 7 2 2 2"/>
<path d="M594 213.5H695" stroke="#1852ff" stroke-width="1" stroke-opacity=".8" stroke-dasharray="6 1 3 1 9 1 2 1 4 2"/>
<path d="M606 425.5H690" stroke="#0a2ad8" stroke-width="1" stroke-opacity=".55" stroke-dasharray="3 2 5 3 2 2"/>
<g stroke="#00008f" stroke-opacity=".92" stroke-width="1" fill="none"><path d="M108.5 49V578"/><path d="M113.5 49V578"/><path d="M118.5 49V578"/><path d="M124.5 49V578"/><path d="M129.5 49V578"/><path d="M134.5 49V578"/><path d="M139.5 49V578"/><path d="M144.5 49V578"/><path d="M149.5 49V578"/><path d="M154.5 49V578"/><path d="M200.5 49V578"/><path d="M205.5 49V578"/><path d="M210.5 49V578"/><path d="M215.5 49V578"/><path d="M220.5 49V578"/><path d="M225.5 49V578"/><path d="M230.5 49V578"/><path d="M235.5 49V578"/><path d="M240.5 49V578"/><path d="M245.5 49V578"/><path d="M250.5 49V578"/><path d="M255.5 49V578"/><path d="M260.5 49V578"/><path d="M266.5 49V578"/><path d="M271.5 49V578"/><path d="M276.5 49V578"/><path d="M281.5 49V578"/><path d="M286.5 49V578"/><path d="M291.5 49V578"/><path d="M296.5 49V578"/><path d="M301.5 49V578"/><path d="M306.5 49V578"/><path d="M311.5 49V578"/><path d="M316.5 49V578"/><path d="M321.5 49V578"/><path d="M326.5 49V578"/><path d="M331.5 49V578"/><path d="M336.5 49V578"/><path d="M342.5 49V578"/><path d="M367.5 49V578"/><path d="M372.5 49V578"/><path d="M377.5 49V578"/><path d="M382.5 49V578"/><path d="M387.5 49V578"/><path d="M392.5 49V578"/><path d="M397.5 49V578"/><path d="M402.5 49V578"/><path d="M407.5 49V578"/><path d="M413.5 49V578"/><path d="M418.5 49V578"/><path d="M423.5 49V578"/><path d="M428.5 49V578"/><path d="M433.5 49V578"/><path d="M438.5 49V578"/><path d="M443.5 49V578"/><path d="M448.5 49V578"/><path d="M453.5 49V578"/><path d="M458.5 49V578"/><path d="M499.5 49V578"/><path d="M504.5 49V578"/><path d="M509.5 49V578"/><path d="M514.5 49V578"/><path d="M519.5 49V578"/><path d="M524.5 49V578"/><path d="M529.5 49V578"/><path d="M534.5 49V578"/><path d="M554.5 49V578"/><path d="M560.5 49V578"/><path d="M565.5 49V578"/><path d="M570.5 49V578"/><path d="M575.5 49V578"/><path d="M580.5 49V578"/><path d="M585.5 49V578"/><path d="M590.5 49V578"/><path d="M595.5 49V578"/></g>
</g>
<g><rect x="728.5" y="48.5" width="32.1" height="530.00" fill="#00008f"/><rect x="728.5" y="48.5" width="32.1" height="521.72" fill="#00009f"/><rect x="728.5" y="48.5" width="32.1" height="513.44" fill="#0000af"/><rect x="728.5" y="48.5" width="32.1" height="505.16" fill="#0000bf"/><rect x="728.5" y="48.5" width="32.1" height="496.88" fill="#0000cf"/><rect x="728.5" y="48.5" width="32.1" height="488.59" fill="#0000df"/><rect x="728.5" y="48.5" width="32.1" height="480.31" fill="#0000ef"/><rect x="728.5" y="48.5" width="32.1" height="472.03" fill="#0000ff"/><rect x="728.5" y="48.5" width="32.1" height="463.75" fill="#0010ff"/><rect x="728.5" y="48.5" width="32.1" height="455.47" fill="#0020ff"/><rect x="728.5" y="48.5" width="32.1" height="447.19" fill="#0030ff"/><rect x="728.5" y="48.5" width="32.1" height="438.91" fill="#0040ff"/><rect x="728.5" y="48.5" width="32.1" height="430.62" fill="#0050ff"/><rect x="728.5" y="48.5" width="32.1" height="422.34" fill="#0060ff"/><rect x="728.5" y="48.5" width="32.1" height="414.06" fill="#0070ff"/><rect x="728.5" y="48.5" width="32.1" height="405.78" fill="#0080ff"/><rect x="728.5" y="48.5" width="32.1" height="397.50" fill="#008fff"/><rect x="728.5" y="48.5" width="32.1" height="389.22" fill="#009fff"/><rect x="728.5" y="48.5" width="32.1" height="380.94" fill="#00afff"/><rect x="728.5" y="48.5" width="32.1" height="372.66" fill="#00bfff"/><rect x="728.5" y="48.5" width="32.1" height="364.38" fill="#00cfff"/><rect x="728.5" y="48.5" width="32.1" height="356.09" fill="#00dfff"/><rect x="728.5" y="48.5" width="32.1" height="347.81" fill="#00efff"/><rect x="728.5" y="48.5" width="32.1" height="339.53" fill="#00ffff"/><rect x="728.5" y="48.5" width="32.1" height="331.25" fill="#10ffef"/><rect x="728.5" y="48.5" width="32.1" height="322.97" fill="#20ffdf"/><rect x="728.5" y="48.5" width="32.1" height="314.69" fill="#30ffcf"/><rect x="728.5" y="48.5" width="32.1" height="306.41" fill="#40ffbf"/><rect x="728.5" y="48.5" width="32.1" height="298.12" fill="#50ffaf"/><rect x="728.5" y="48.5" width="32.1" height="289.84" fill="#60ff9f"/><rect x="728.5" y="48.5" width="32.1" height="281.56" fill="#70ff8f"/><rect x="728.5" y="48.5" width="32.1" height="273.28" fill="#80ff80"/><rect x="728.5" y="48.5" width="32.1" height="265.00" fill="#8fff70"/><rect x="728.5" y="48.5" width="32.1" height="256.72" fill="#9fff60"/><rect x="728.5" y="48.5" width="32.1" height="248.44" fill="#afff50"/><rect x="728.5" y="48.5" width="32.1" height="240.16" fill="#bfff40"/><rect x="728.5" y="48.5" width="32.1" height="231.88" fill="#cfff30"/><rect x="728.5" y="48.5" width="32.1" height="223.59" fill="#dfff20"/><rect x="728.5" y="48.5" width="32.1" height="215.31" fill="#efff10"/><rect x="728.5" y="48.5" width="32.1" height="207.03" fill="#ffff00"/><rect x="728.5" y="48.5" width="32.1" height="198.75" fill="#ffef00"/><rect x="728.5" y="48.5" width="32.1" height="190.47" fill="#ffdf00"/><rect x="728.5" y="48.5" width="32.1" height="182.19" fill="#ffcf00"/><rect x="728.5" y="48.5" width="32.1" height="173.91" fill="#ffbf00"/><rect x="728.5" y="48.5" width="32.1" height="165.62" fill="#ffaf00"/><rect x="728.5" y="48.5" width="32.1" height="157.34" fill="#ff9f00"/><rect x="728.5" y="48.5" width="32.1" height="149.06" fill="#ff8f00"/><rect x="728.5" y="48.5" width="32.1" height="140.78" fill="#ff8000"/><rect x="728.5" y="48.5" width="32.1" height="132.50" fill="#ff7000"/><rect x="728.5" y="48.5" width="32.1" height="124.22" fill="#ff6000"/><rect x="728.5" y="48.5" width="32.1" height="115.94" fill="#ff5000"/><rect x="728.5" y="48.5" width="32.1" height="107.66" fill="#ff4000"/><rect x="728.5" y="48.5" width="32.1" height="99.38" fill="#ff3000"/><rect x="728.5" y="48.5" width="32.1" height="91.09" fill="#ff2000"/><rect x="728.5" y="48.5" width="32.1" height="82.81" fill="#ff1000"/><rect x="728.5" y="48.5" width="32.1" height="74.53" fill="#ff0000"/><rect x="728.5" y="48.5" width="32.1" height="66.25" fill="#ef0000"/><rect x="728.5" y="48.5" width="32.1" height="57.97" fill="#df0000"/><rect x="728.5" y="48.5" width="32.1" height="49.69" fill="#cf0000"/><rect x="728.5" y="48.5" width="32.1" height="41.41" fill="#bf0000"/><rect x="728.5" y="48.5" width="32.1" height="33.12" fill="#af0000"/><rect x="728.5" y="48.5" width="32.1" height="24.84" fill="#9f0000"/><rect x="728.5" y="48.5" width="32.1" height="16.56" fill="#8f0000"/><rect x="728.5" y="48.5" width="32.1" height="8.28" fill="#800000"/></g>
<rect x="728.5" y="48.5" width="32.10000000000002" height="530.0" fill="none" stroke="#262626" stroke-width="1"/>
<g stroke="#262626" stroke-width="1"><path d="M760.6 68.5h-5"/><path d="M760.6 166.5h-5"/><path d="M760.6 264.5h-5"/><path d="M760.6 362.5h-5"/><path d="M760.6 460.5h-5"/><path d="M760.6 558.5h-5"/></g>
<g class="tk" style="font-size:22.6px"><text x="770.2" y="76.6">7</text><text x="770.2" y="174.6">6.5</text><text x="770.2" y="272.6">6</text><text x="770.2" y="370.6">5.5</text><text x="770.2" y="468.6">5</text><text x="770.2" y="566.6">4.5</text></g>
<g class="tk" text-anchor="end"><text x="91" y="71.6">10</text><text x="91" y="197.1">5</text><text x="91" y="322.6">0</text><text x="91" y="448.1">-5</text><text x="91" y="573.6">-10</text></g>
<g class="tk" text-anchor="middle"><text x="197.3" y="613.5">20</text><text x="295.8" y="613.5">40</text><text x="394.4" y="613.5">60</text><text x="493.0" y="613.5">80</text><text x="591.6" y="613.5">100</text><text x="690.2" y="613.5">120</text></g>
<text class="lb" text-anchor="middle" x="396.5" y="648">time [min]</text>
<text class="lb yl" text-anchor="middle" transform="translate(41.3,313.5) rotate(-90)">Δf [Hz]</text>
<text class="ti" text-anchor="end" x="811.5" y="38.8" xml:space="preserve">f=4.65 MHz;  lat=50.04; long=14.48, time=0 is at 2026 01 02 16:00</text>
</svg>
</body></html>
